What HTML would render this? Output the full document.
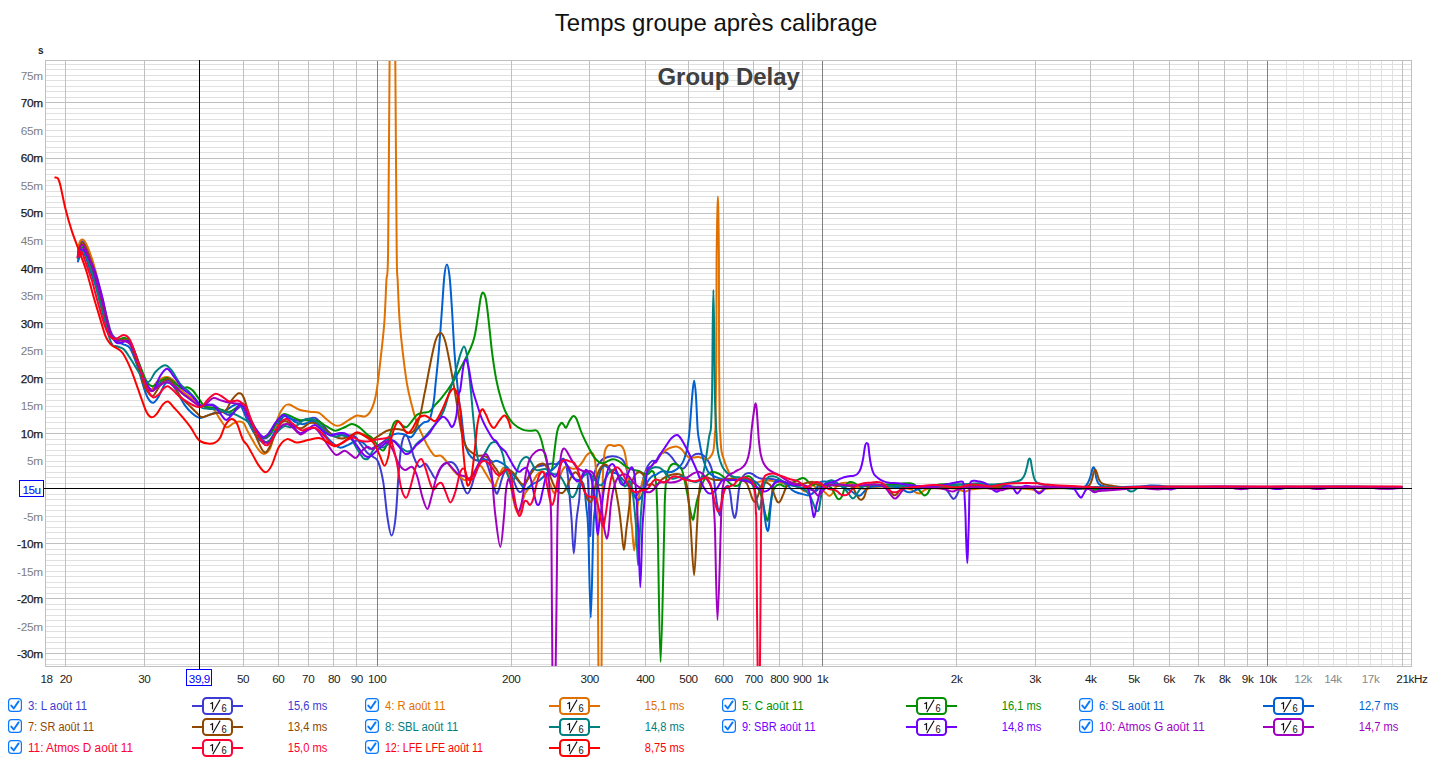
<!DOCTYPE html><html><head><meta charset="utf-8"><title>Group Delay</title>
<style>
html,body{margin:0;padding:0;background:#fff;}
body{width:1433px;height:780px;overflow:hidden;position:relative;font-family:"Liberation Sans",sans-serif;}
svg{position:absolute;left:0;top:0;}
text{font-family:"Liberation Sans",sans-serif;}
</style></head><body>
<svg width="1433" height="780" viewBox="0 0 1433 780">
<rect x="0" y="0" width="1433" height="780" fill="#ffffff"/>
<g shape-rendering="crispEdges"><rect x="45" y="664" width="1367" height="1" fill="#e0e0e0"/><rect x="45" y="659" width="1367" height="1" fill="#e0e0e0"/><rect x="45" y="648" width="1367" height="1" fill="#e0e0e0"/><rect x="45" y="642" width="1367" height="1" fill="#e0e0e0"/><rect x="45" y="637" width="1367" height="1" fill="#e0e0e0"/><rect x="45" y="631" width="1367" height="1" fill="#e0e0e0"/><rect x="45" y="626" width="1367" height="1" fill="#e0e0e0"/><rect x="45" y="620" width="1367" height="1" fill="#e0e0e0"/><rect x="45" y="615" width="1367" height="1" fill="#e0e0e0"/><rect x="45" y="609" width="1367" height="1" fill="#e0e0e0"/><rect x="45" y="604" width="1367" height="1" fill="#e0e0e0"/><rect x="45" y="593" width="1367" height="1" fill="#e0e0e0"/><rect x="45" y="587" width="1367" height="1" fill="#e0e0e0"/><rect x="45" y="582" width="1367" height="1" fill="#e0e0e0"/><rect x="45" y="576" width="1367" height="1" fill="#e0e0e0"/><rect x="45" y="571" width="1367" height="1" fill="#e0e0e0"/><rect x="45" y="565" width="1367" height="1" fill="#e0e0e0"/><rect x="45" y="560" width="1367" height="1" fill="#e0e0e0"/><rect x="45" y="554" width="1367" height="1" fill="#e0e0e0"/><rect x="45" y="549" width="1367" height="1" fill="#e0e0e0"/><rect x="45" y="538" width="1367" height="1" fill="#e0e0e0"/><rect x="45" y="532" width="1367" height="1" fill="#e0e0e0"/><rect x="45" y="527" width="1367" height="1" fill="#e0e0e0"/><rect x="45" y="521" width="1367" height="1" fill="#e0e0e0"/><rect x="45" y="516" width="1367" height="1" fill="#e0e0e0"/><rect x="45" y="510" width="1367" height="1" fill="#e0e0e0"/><rect x="45" y="505" width="1367" height="1" fill="#e0e0e0"/><rect x="45" y="499" width="1367" height="1" fill="#e0e0e0"/><rect x="45" y="494" width="1367" height="1" fill="#e0e0e0"/><rect x="45" y="483" width="1367" height="1" fill="#e0e0e0"/><rect x="45" y="477" width="1367" height="1" fill="#e0e0e0"/><rect x="45" y="472" width="1367" height="1" fill="#e0e0e0"/><rect x="45" y="466" width="1367" height="1" fill="#e0e0e0"/><rect x="45" y="461" width="1367" height="1" fill="#e0e0e0"/><rect x="45" y="455" width="1367" height="1" fill="#e0e0e0"/><rect x="45" y="450" width="1367" height="1" fill="#e0e0e0"/><rect x="45" y="444" width="1367" height="1" fill="#e0e0e0"/><rect x="45" y="439" width="1367" height="1" fill="#e0e0e0"/><rect x="45" y="428" width="1367" height="1" fill="#e0e0e0"/><rect x="45" y="422" width="1367" height="1" fill="#e0e0e0"/><rect x="45" y="417" width="1367" height="1" fill="#e0e0e0"/><rect x="45" y="411" width="1367" height="1" fill="#e0e0e0"/><rect x="45" y="406" width="1367" height="1" fill="#e0e0e0"/><rect x="45" y="400" width="1367" height="1" fill="#e0e0e0"/><rect x="45" y="394" width="1367" height="1" fill="#e0e0e0"/><rect x="45" y="389" width="1367" height="1" fill="#e0e0e0"/><rect x="45" y="383" width="1367" height="1" fill="#e0e0e0"/><rect x="45" y="372" width="1367" height="1" fill="#e0e0e0"/><rect x="45" y="367" width="1367" height="1" fill="#e0e0e0"/><rect x="45" y="361" width="1367" height="1" fill="#e0e0e0"/><rect x="45" y="356" width="1367" height="1" fill="#e0e0e0"/><rect x="45" y="350" width="1367" height="1" fill="#e0e0e0"/><rect x="45" y="345" width="1367" height="1" fill="#e0e0e0"/><rect x="45" y="339" width="1367" height="1" fill="#e0e0e0"/><rect x="45" y="334" width="1367" height="1" fill="#e0e0e0"/><rect x="45" y="328" width="1367" height="1" fill="#e0e0e0"/><rect x="45" y="317" width="1367" height="1" fill="#e0e0e0"/><rect x="45" y="312" width="1367" height="1" fill="#e0e0e0"/><rect x="45" y="306" width="1367" height="1" fill="#e0e0e0"/><rect x="45" y="301" width="1367" height="1" fill="#e0e0e0"/><rect x="45" y="295" width="1367" height="1" fill="#e0e0e0"/><rect x="45" y="290" width="1367" height="1" fill="#e0e0e0"/><rect x="45" y="284" width="1367" height="1" fill="#e0e0e0"/><rect x="45" y="279" width="1367" height="1" fill="#e0e0e0"/><rect x="45" y="273" width="1367" height="1" fill="#e0e0e0"/><rect x="45" y="262" width="1367" height="1" fill="#e0e0e0"/><rect x="45" y="257" width="1367" height="1" fill="#e0e0e0"/><rect x="45" y="251" width="1367" height="1" fill="#e0e0e0"/><rect x="45" y="246" width="1367" height="1" fill="#e0e0e0"/><rect x="45" y="240" width="1367" height="1" fill="#e0e0e0"/><rect x="45" y="235" width="1367" height="1" fill="#e0e0e0"/><rect x="45" y="229" width="1367" height="1" fill="#e0e0e0"/><rect x="45" y="224" width="1367" height="1" fill="#e0e0e0"/><rect x="45" y="218" width="1367" height="1" fill="#e0e0e0"/><rect x="45" y="207" width="1367" height="1" fill="#e0e0e0"/><rect x="45" y="202" width="1367" height="1" fill="#e0e0e0"/><rect x="45" y="196" width="1367" height="1" fill="#e0e0e0"/><rect x="45" y="191" width="1367" height="1" fill="#e0e0e0"/><rect x="45" y="185" width="1367" height="1" fill="#e0e0e0"/><rect x="45" y="180" width="1367" height="1" fill="#e0e0e0"/><rect x="45" y="174" width="1367" height="1" fill="#e0e0e0"/><rect x="45" y="169" width="1367" height="1" fill="#e0e0e0"/><rect x="45" y="163" width="1367" height="1" fill="#e0e0e0"/><rect x="45" y="152" width="1367" height="1" fill="#e0e0e0"/><rect x="45" y="147" width="1367" height="1" fill="#e0e0e0"/><rect x="45" y="141" width="1367" height="1" fill="#e0e0e0"/><rect x="45" y="136" width="1367" height="1" fill="#e0e0e0"/><rect x="45" y="130" width="1367" height="1" fill="#e0e0e0"/><rect x="45" y="124" width="1367" height="1" fill="#e0e0e0"/><rect x="45" y="119" width="1367" height="1" fill="#e0e0e0"/><rect x="45" y="113" width="1367" height="1" fill="#e0e0e0"/><rect x="45" y="108" width="1367" height="1" fill="#e0e0e0"/><rect x="45" y="97" width="1367" height="1" fill="#e0e0e0"/><rect x="45" y="91" width="1367" height="1" fill="#e0e0e0"/><rect x="45" y="86" width="1367" height="1" fill="#e0e0e0"/><rect x="45" y="80" width="1367" height="1" fill="#e0e0e0"/><rect x="45" y="75" width="1367" height="1" fill="#e0e0e0"/><rect x="45" y="69" width="1367" height="1" fill="#e0e0e0"/><rect x="45" y="64" width="1367" height="1" fill="#e0e0e0"/><rect x="1286" y="60" width="1" height="607" fill="#e0e0e0"/><rect x="1303" y="60" width="1" height="607" fill="#e0e0e0"/><rect x="1318" y="60" width="1" height="607" fill="#e0e0e0"/><rect x="1333" y="60" width="1" height="607" fill="#e0e0e0"/><rect x="1346" y="60" width="1" height="607" fill="#e0e0e0"/><rect x="1358" y="60" width="1" height="607" fill="#e0e0e0"/><rect x="1370" y="60" width="1" height="607" fill="#e0e0e0"/><rect x="1381" y="60" width="1" height="607" fill="#e0e0e0"/><rect x="1392" y="60" width="1" height="607" fill="#e0e0e0"/><rect x="65" y="60" width="1" height="607" fill="#c0c0c0"/><rect x="144" y="60" width="1" height="607" fill="#c0c0c0"/><rect x="199" y="60" width="1" height="607" fill="#c0c0c0"/><rect x="243" y="60" width="1" height="607" fill="#c0c0c0"/><rect x="278" y="60" width="1" height="607" fill="#c0c0c0"/><rect x="308" y="60" width="1" height="607" fill="#c0c0c0"/><rect x="333" y="60" width="1" height="607" fill="#c0c0c0"/><rect x="356" y="60" width="1" height="607" fill="#c0c0c0"/><rect x="511" y="60" width="1" height="607" fill="#c0c0c0"/><rect x="589" y="60" width="1" height="607" fill="#c0c0c0"/><rect x="645" y="60" width="1" height="607" fill="#c0c0c0"/><rect x="688" y="60" width="1" height="607" fill="#c0c0c0"/><rect x="723" y="60" width="1" height="607" fill="#c0c0c0"/><rect x="753" y="60" width="1" height="607" fill="#c0c0c0"/><rect x="779" y="60" width="1" height="607" fill="#c0c0c0"/><rect x="802" y="60" width="1" height="607" fill="#c0c0c0"/><rect x="956" y="60" width="1" height="607" fill="#c0c0c0"/><rect x="1035" y="60" width="1" height="607" fill="#c0c0c0"/><rect x="1090" y="60" width="1" height="607" fill="#c0c0c0"/><rect x="1133" y="60" width="1" height="607" fill="#c0c0c0"/><rect x="1169" y="60" width="1" height="607" fill="#c0c0c0"/><rect x="1198" y="60" width="1" height="607" fill="#c0c0c0"/><rect x="1224" y="60" width="1" height="607" fill="#c0c0c0"/><rect x="1247" y="60" width="1" height="607" fill="#c0c0c0"/><rect x="1402" y="60" width="1" height="607" fill="#c0c0c0"/><rect x="45" y="653" width="1367" height="1" fill="#c0c0c0"/><rect x="45" y="598" width="1367" height="1" fill="#c0c0c0"/><rect x="45" y="543" width="1367" height="1" fill="#c0c0c0"/><rect x="45" y="488" width="1367" height="1" fill="#c0c0c0"/><rect x="45" y="433" width="1367" height="1" fill="#c0c0c0"/><rect x="45" y="378" width="1367" height="1" fill="#c0c0c0"/><rect x="45" y="323" width="1367" height="1" fill="#c0c0c0"/><rect x="45" y="268" width="1367" height="1" fill="#c0c0c0"/><rect x="45" y="213" width="1367" height="1" fill="#c0c0c0"/><rect x="45" y="158" width="1367" height="1" fill="#c0c0c0"/><rect x="45" y="102" width="1367" height="1" fill="#c0c0c0"/><rect x="377" y="60" width="1" height="607" fill="#808080"/><rect x="822" y="60" width="1" height="607" fill="#808080"/><rect x="1267" y="60" width="1" height="607" fill="#808080"/><rect x="45.5" y="60.5" width="1366" height="606" fill="none" stroke="#c0c0c0" stroke-width="1"/></g>
<defs><clipPath id="plot"><rect x="46" y="61" width="1365" height="605"/></clipPath></defs>
<g clip-path="url(#plot)" fill="none" stroke-width="2" stroke-linejoin="round" stroke-linecap="round">
<path d="M78.0 252.0C78.2 251.0 78.7 247.6 79.2 246.0C79.7 244.4 80.3 243.3 80.8 242.6C81.3 241.9 81.8 241.5 82.4 241.6C83.0 241.7 83.7 242.1 84.3 243.0C84.9 243.9 85.5 245.0 86.3 246.8C87.1 248.6 88.2 251.5 89.2 254.0C90.2 256.5 91.3 259.3 92.2 262.0C93.1 264.7 94.0 267.5 94.7 270.0C95.4 272.5 96.1 275.0 96.6 277.0C97.1 279.0 96.8 278.2 97.8 282.0C98.8 285.8 100.6 291.9 102.7 300.0C104.8 308.1 108.2 324.3 110.5 330.8C112.8 337.3 114.5 337.5 116.7 339.0C118.9 340.5 121.4 339.1 123.8 340.0C126.2 340.9 128.6 340.5 131.0 344.1C133.4 347.7 135.8 355.2 138.2 361.5C140.6 367.8 143.2 377.2 145.4 382.0C147.6 386.8 149.3 389.9 151.5 390.3C153.7 390.7 156.1 385.8 158.7 384.1C161.3 382.4 164.3 380.0 166.9 380.0C169.5 380.0 171.5 381.9 174.1 384.1C176.7 386.3 179.6 390.7 182.3 393.3C185.0 395.9 187.8 397.6 190.5 399.5C193.2 401.4 196.3 403.6 198.7 404.6C201.1 405.6 202.5 405.6 204.9 405.6C207.3 405.6 210.4 403.7 213.1 404.6C215.8 405.5 218.6 409.1 221.3 410.8C224.0 412.5 226.8 415.2 229.5 414.9C232.2 414.5 235.4 410.2 237.7 408.7C239.9 407.2 241.2 404.5 243.0 406.0C244.8 407.5 246.0 413.5 248.2 417.9C250.4 422.3 253.8 428.9 256.4 432.3C259.0 435.7 261.4 438.0 263.6 438.5C265.8 439.0 267.5 437.8 269.7 435.4C271.9 433.0 274.5 427.4 276.9 424.1C279.3 420.9 281.7 416.8 284.1 415.9C286.5 415.0 288.7 418.1 291.3 419.0C293.9 419.9 296.8 421.0 299.5 421.0C302.2 421.0 305.1 419.5 307.7 419.0C310.3 418.5 312.5 417.0 314.9 417.9C317.3 418.8 319.5 421.5 322.1 424.1C324.7 426.7 327.6 431.6 330.3 433.3C333.0 435.0 335.8 434.0 338.5 434.4C341.2 434.8 344.0 435.1 346.7 435.4C349.4 435.7 352.5 434.9 354.9 436.4C357.3 437.9 358.9 441.9 361.0 444.6C363.1 447.3 365.1 450.8 367.2 452.8C369.2 454.9 371.5 455.4 373.3 456.9C375.1 458.4 376.5 457.6 378.2 461.8C379.9 466.0 381.8 473.1 383.3 482.3C384.8 491.5 386.0 508.3 387.4 517.2C388.8 526.1 390.1 535.6 391.5 535.6C392.9 535.6 394.4 527.8 395.6 517.2C396.8 506.6 397.7 484.4 398.7 472.1C399.7 459.8 400.6 449.5 401.8 443.3C403.0 437.1 404.5 435.1 405.9 435.1C407.3 435.1 408.6 439.5 410.0 443.3C411.4 447.1 412.6 453.8 414.1 457.7C415.6 461.6 417.3 465.9 419.2 466.9C421.1 467.9 423.5 463.1 425.4 463.8C427.3 464.5 428.8 468.6 430.5 471.0C432.2 473.4 433.9 478.7 435.6 478.2C437.3 477.7 438.9 470.5 440.8 467.9C442.7 465.3 444.8 463.6 446.9 462.8C448.9 462.0 451.2 461.6 453.1 462.8C455.0 464.0 456.5 466.1 458.2 470.0C459.9 473.9 461.8 482.5 463.3 486.4C464.8 490.3 466.0 493.6 467.4 493.6C468.8 493.6 469.9 490.7 471.5 486.4C473.1 482.1 475.0 472.3 476.7 467.9C478.4 463.4 480.3 460.9 481.8 459.7C483.3 458.5 484.4 458.1 485.9 460.8C487.4 463.6 489.3 470.9 491.0 476.2C492.7 481.5 494.7 490.4 496.0 492.8C497.3 495.2 497.8 492.2 498.6 490.3C499.5 488.4 500.2 484.1 501.1 481.3C502.0 478.5 502.7 475.5 503.7 473.6C504.7 471.7 505.8 469.9 506.9 469.7C508.0 469.5 508.9 470.4 510.1 472.3C511.3 474.2 512.6 478.3 513.9 481.3C515.2 484.3 516.5 488.6 517.8 490.3C519.1 492.0 520.3 492.6 521.6 491.5C522.9 490.4 524.2 486.6 525.5 483.8C526.8 481.0 528.0 477.4 529.3 474.9C530.6 472.3 531.9 469.9 533.2 468.5C534.5 467.1 535.7 466.9 537.0 466.5C538.3 466.1 539.6 466.2 540.9 465.9C542.2 465.6 543.4 464.9 544.7 464.6C546.0 464.3 547.3 464.2 548.6 464.0C549.9 463.8 551.1 463.6 552.4 463.6C553.7 463.6 555.0 464.5 556.3 464.0C557.6 463.5 558.9 461.7 560.1 460.8C561.3 459.9 562.3 458.4 563.3 458.8C564.3 459.2 565.1 460.6 565.9 463.3C566.6 466.0 567.2 469.3 567.8 474.9C568.4 480.5 569.1 489.2 569.7 496.7C570.3 504.2 570.9 510.6 571.6 520.0C572.3 529.5 573.0 553.4 573.8 553.4C574.6 553.4 575.6 528.9 576.5 520.0C577.4 511.1 578.6 505.4 579.2 500.0C579.8 494.6 579.5 491.9 580.0 487.7C580.5 483.5 581.6 477.5 582.4 474.9C583.2 472.3 584.1 472.3 585.0 472.3C585.9 472.3 586.9 471.3 587.5 474.9C588.1 478.5 588.2 483.9 588.6 494.1C589.0 504.3 589.6 535.0 590.1 536.0C590.6 537.0 591.0 509.3 591.5 500.0C592.0 490.7 592.2 485.3 593.0 480.0C593.8 474.7 594.8 471.0 596.0 468.0C597.2 465.0 598.7 463.6 600.0 462.0C601.3 460.4 602.0 459.4 604.0 458.5C606.0 457.6 609.7 456.6 611.9 456.3C614.1 456.0 615.3 456.4 617.0 456.9C618.7 457.4 620.8 458.2 622.2 459.5C623.6 460.8 624.5 462.5 625.4 464.6C626.2 466.7 626.6 469.1 627.3 472.3C628.0 475.5 628.9 480.5 629.8 483.8C630.6 487.1 631.5 490.0 632.4 492.0C633.3 494.0 634.1 495.7 635.0 496.0C635.9 496.3 637.0 495.3 638.0 494.0C639.0 492.7 640.0 491.0 641.0 488.0C642.0 485.0 642.9 479.7 644.0 476.0C645.1 472.3 646.5 468.5 647.8 466.0C649.1 463.5 650.6 461.9 652.0 461.0C653.4 460.1 654.7 461.9 656.0 460.8C657.3 459.7 658.5 455.8 659.8 454.4C661.1 453.0 662.4 452.6 663.7 452.4C665.0 452.2 666.2 452.4 667.5 453.1C668.8 453.9 670.1 455.4 671.4 456.9C672.7 458.4 673.8 460.4 675.2 462.1C676.6 463.8 678.3 466.1 679.7 467.2C681.1 468.3 682.4 468.9 683.6 468.5C684.8 468.1 685.7 466.2 686.8 464.6C687.9 463.0 688.8 460.4 690.0 458.8C691.2 457.2 692.4 455.9 693.8 455.0C695.2 454.1 696.8 453.7 698.3 453.7C699.8 453.7 701.3 454.0 702.8 455.0C704.3 456.0 705.9 457.5 707.3 459.5C708.7 461.5 710.0 464.0 711.1 467.2C712.2 470.4 713.0 474.2 713.7 478.7C714.5 483.2 715.0 489.4 715.6 494.1C716.2 498.8 716.9 503.5 717.5 506.9C718.1 510.3 719.0 513.5 719.5 514.6C720.0 515.7 720.3 515.4 720.7 513.3C721.1 511.2 721.5 505.6 722.0 501.8C722.5 498.0 723.1 492.9 723.9 490.3C724.6 487.7 725.8 487.0 726.5 486.4C727.2 485.8 727.8 485.1 728.4 486.4C729.0 487.7 729.8 490.2 730.4 494.1C731.0 498.0 731.6 505.6 732.3 509.5C733.0 513.5 733.8 517.4 734.5 517.8C735.2 518.2 735.9 514.8 736.4 512.0C736.9 509.2 737.1 505.1 737.6 501.0C738.1 496.9 738.5 491.4 739.2 487.7C739.9 484.0 740.8 480.9 741.8 478.7C742.8 476.4 743.8 475.2 745.0 474.2C746.2 473.2 747.5 472.9 748.8 472.9C750.1 472.9 751.4 473.5 752.7 474.2C754.0 474.9 755.0 476.1 756.5 476.8C758.0 477.6 759.7 478.4 761.6 478.7C763.5 479.0 766.0 478.6 768.1 478.7C770.2 478.8 772.6 479.0 774.5 479.4C776.4 479.8 777.9 480.6 779.6 481.3C781.3 482.0 783.0 483.2 784.7 483.8C786.4 484.4 787.9 484.7 789.8 485.1C791.7 485.5 794.1 486.0 796.3 486.4C798.4 486.8 800.8 487.3 802.7 487.7C804.6 488.1 806.1 488.6 807.8 489.0C809.5 489.4 811.5 490.0 812.9 490.3C814.3 490.6 814.9 491.4 816.0 491.0C817.1 490.6 818.3 488.7 819.8 487.7C821.3 486.7 822.3 485.7 824.8 485.2C827.3 484.7 831.0 484.5 834.8 484.6C838.6 484.7 843.2 485.6 847.4 485.9C851.6 486.2 855.8 486.5 860.0 486.5C864.2 486.5 867.3 485.9 872.5 485.9C877.7 485.9 885.1 486.3 891.4 486.5C897.7 486.7 905.0 486.9 910.2 487.1C915.4 487.3 918.6 487.7 922.8 487.7C927.0 487.7 931.8 487.0 935.3 487.1C938.8 487.2 942.0 487.7 944.1 488.4C946.2 489.1 946.7 490.1 947.9 491.5C949.1 492.9 950.1 495.2 951.1 496.5C952.1 497.8 952.8 499.0 953.6 499.0C954.4 499.0 955.2 497.9 956.1 496.5C957.0 495.1 958.1 491.9 959.2 490.3C960.4 488.7 960.7 487.7 963.0 487.1C965.3 486.5 967.5 486.6 973.0 486.5C978.5 486.4 983.2 486.3 996.0 486.5C1008.8 486.7 1032.7 487.2 1050.0 487.5C1067.3 487.8 1085.0 488.1 1100.0 488.0C1115.0 487.9 1123.3 487.2 1140.0 487.0C1156.7 486.8 1180.0 486.8 1200.0 486.8C1220.0 486.8 1240.0 487.0 1260.0 487.0C1280.0 487.0 1300.0 486.8 1320.0 486.8C1340.0 486.8 1366.4 486.9 1380.0 486.9C1393.6 486.9 1397.9 486.9 1401.5 486.9" stroke="#3c3cd2"/>
<path d="M78.2 250.0C78.3 249.1 78.5 246.4 78.9 244.8C79.3 243.2 79.9 241.5 80.5 240.6C81.1 239.7 81.7 239.3 82.4 239.4C83.1 239.5 83.8 240.1 84.5 241.0C85.2 241.9 85.7 242.9 86.6 244.8C87.5 246.7 88.8 249.8 89.8 252.5C90.8 255.2 91.8 258.2 92.7 261.0C93.6 263.8 94.3 266.5 95.0 269.0C95.7 271.5 96.3 273.8 96.8 276.0C97.3 278.2 97.1 278.0 98.0 282.0C98.9 286.0 100.2 291.4 102.3 300.0C104.4 308.6 108.1 327.3 110.5 333.8C112.9 340.3 114.3 338.1 116.7 339.0C119.1 339.9 122.5 338.0 124.9 339.0C127.3 340.0 128.8 341.0 131.0 345.1C133.2 349.2 135.8 357.1 138.2 363.6C140.6 370.1 143.3 379.7 145.4 384.1C147.5 388.6 148.4 390.8 150.5 390.3C152.6 389.8 155.0 383.2 157.7 381.0C160.4 378.8 164.2 376.9 166.9 376.9C169.6 376.9 171.5 378.6 174.1 381.0C176.7 383.4 179.6 388.6 182.3 391.3C185.0 394.0 187.8 395.3 190.5 397.4C193.2 399.4 196.3 402.1 198.7 403.6C201.1 405.2 202.5 405.9 204.9 406.7C207.3 407.5 210.7 406.8 213.1 408.7C215.5 410.6 217.0 414.8 219.2 417.9C221.4 421.0 224.0 426.3 226.4 427.2C228.8 428.1 231.4 424.1 233.6 423.1C235.8 422.1 238.0 421.3 239.7 421.4C241.4 421.5 242.6 421.7 244.0 423.5C245.4 425.3 245.8 427.9 248.2 432.3C250.6 436.7 255.8 446.1 258.5 449.7C261.2 453.3 262.6 454.3 264.6 453.8C266.7 453.3 268.6 452.7 270.8 446.7C273.0 440.7 275.7 424.6 277.9 417.9C280.1 411.2 282.2 408.9 284.1 406.7C286.0 404.5 286.6 404.1 289.2 404.6C291.8 405.1 296.1 408.5 299.5 409.7C302.9 410.9 306.4 411.3 309.7 411.8C312.9 412.3 316.2 411.6 319.0 412.8C321.8 414.0 323.6 416.9 326.2 419.0C328.8 421.1 332.0 424.1 334.4 425.1C336.8 426.1 338.1 426.0 340.5 425.1C342.9 424.2 346.0 421.6 348.7 420.0C351.4 418.4 354.2 416.1 356.9 415.5C359.6 414.9 362.7 417.3 365.1 416.3C367.5 415.3 369.4 413.6 371.3 409.7C373.2 405.8 374.6 402.5 376.3 393.0C378.0 383.5 380.0 364.5 381.3 352.6C382.6 340.7 383.5 333.8 384.4 321.8C385.2 309.8 385.8 292.8 386.4 280.8C387.0 268.8 387.6 286.8 388.1 250.0C388.6 213.2 389.3 95.0 389.6 60.0C389.9 25.0 389.0 43.3 389.9 40.0C390.8 36.7 394.1 36.7 395.0 40.0C395.9 43.3 395.0 25.0 395.3 60.0C395.6 95.0 396.3 213.2 396.7 250.0C397.1 286.8 397.2 268.8 397.7 280.8C398.2 292.8 398.8 309.8 399.7 321.8C400.6 333.8 401.6 342.4 402.8 352.6C404.0 362.9 405.5 375.0 406.9 383.3C408.3 391.6 409.4 396.1 411.0 402.3C412.6 408.6 414.3 415.3 416.2 420.8C418.1 426.3 420.2 430.7 422.3 435.1C424.4 439.5 426.4 444.0 428.5 447.4C430.6 450.8 432.6 454.2 434.6 455.6C436.7 457.0 438.8 454.6 440.8 455.6C442.9 456.6 444.8 459.4 446.9 461.8C448.9 464.2 451.1 467.6 453.1 470.0C455.2 472.4 457.1 474.5 459.2 476.2C461.2 477.9 463.3 480.3 465.4 480.3C467.4 480.3 469.6 478.3 471.5 476.2C473.4 474.1 475.1 469.6 476.7 467.9C478.2 466.2 479.4 465.2 480.8 465.9C482.2 466.6 483.4 469.7 484.9 472.1C486.4 474.5 488.3 477.9 490.0 480.3C491.7 482.7 494.1 485.8 495.1 486.4C496.1 487.0 495.4 485.3 496.0 483.8C496.6 482.3 497.6 479.8 498.6 477.4C499.6 475.0 500.9 471.3 501.8 469.7C502.8 468.1 503.4 467.4 504.3 467.8C505.2 468.2 506.5 470.1 507.5 472.3C508.5 474.6 509.2 477.2 510.1 481.3C511.0 485.4 511.7 492.0 512.7 496.7C513.7 501.4 514.8 506.7 515.9 509.5C517.0 512.3 518.1 513.9 519.1 513.3C520.1 512.6 520.7 508.8 521.6 505.6C522.5 502.4 523.5 497.1 524.8 494.1C526.1 491.1 527.9 489.8 529.3 487.7C530.7 485.6 531.9 483.4 533.2 481.3C534.5 479.2 535.7 476.5 537.0 474.9C538.3 473.3 539.7 472.1 540.9 471.7C542.1 471.3 543.0 471.4 544.1 472.3C545.2 473.2 546.1 475.0 547.3 477.4C548.5 479.8 550.0 483.8 551.1 486.4C552.2 489.0 552.8 492.1 553.7 492.8C554.6 493.5 555.4 492.2 556.3 490.3C557.1 488.4 557.9 484.3 558.8 481.3C559.6 478.3 560.4 474.7 561.4 472.3C562.4 469.9 563.5 468.2 564.6 467.2C565.7 466.2 566.6 466.3 567.8 466.5C569.0 466.7 570.3 468.2 571.6 468.5C572.9 468.8 574.2 468.9 575.5 468.5C576.8 468.1 578.0 467.2 579.3 465.9C580.6 464.6 582.0 462.5 583.2 460.8C584.4 459.1 585.0 457.0 586.3 455.6C587.5 454.2 589.4 452.4 590.7 452.4C592.0 452.4 593.0 452.9 593.9 455.6C594.8 458.3 595.3 462.1 595.9 468.5C596.5 474.9 596.9 483.9 597.2 494.1C597.5 504.4 597.6 497.0 597.8 530.0C598.0 563.0 598.0 665.0 598.6 692.0C599.2 719.0 600.8 719.0 601.4 692.0C602.0 665.0 601.8 563.0 602.0 530.0C602.2 497.0 602.2 504.4 602.4 494.1C602.6 483.9 602.8 475.6 603.2 468.5C603.6 461.4 604.1 455.6 604.8 451.8C605.5 448.1 606.4 447.1 607.4 446.0C608.4 444.9 609.4 445.1 610.6 445.1C611.8 445.1 613.2 446.0 614.5 446.0C615.8 446.0 617.1 445.1 618.3 445.1C619.5 445.1 620.5 445.1 621.5 446.0C622.5 446.9 623.2 447.6 624.1 450.5C625.0 453.4 625.9 458.2 626.6 463.3C627.4 468.4 628.1 475.1 628.6 481.3C629.1 487.5 629.4 494.1 629.8 500.5C630.2 506.9 630.7 514.8 631.1 519.7C631.5 524.6 631.7 524.9 632.2 530.0C632.7 535.1 633.5 550.6 634.2 550.6C634.9 550.6 635.8 537.3 636.3 530.0C636.8 522.7 636.9 513.3 637.5 506.9C638.1 500.5 639.2 495.8 640.1 491.5C641.0 487.2 641.7 484.5 642.7 481.3C643.7 478.1 644.6 474.7 645.9 472.3C647.2 469.9 648.8 468.9 650.4 467.2C652.0 465.5 654.6 463.0 655.5 462.1C656.4 461.2 655.1 463.4 656.0 462.1C656.9 460.8 659.4 456.4 661.1 454.4C662.8 452.4 664.5 451.1 666.3 449.9C668.1 448.7 670.2 447.8 672.0 447.3C673.8 446.8 675.6 446.4 677.2 446.7C678.8 447.0 680.2 447.9 681.6 449.2C683.0 450.5 684.2 453.0 685.5 454.4C686.8 455.8 687.9 457.1 689.3 457.6C690.7 458.1 692.3 457.7 693.8 457.6C695.3 457.5 696.8 456.8 698.3 456.9C699.8 457.0 701.4 457.8 702.8 458.2C704.2 458.6 705.4 459.3 706.6 459.2C707.8 459.1 708.7 458.8 709.8 457.6C710.9 456.4 712.4 454.3 713.1 451.8C713.9 449.3 714.0 446.1 714.3 442.8C714.6 439.5 714.8 435.0 715.0 432.0C715.2 429.0 715.3 437.0 715.5 425.0C715.7 413.0 716.1 387.5 716.3 360.0C716.5 332.5 716.4 284.2 716.6 260.0C716.8 235.8 717.1 225.6 717.3 215.0C717.5 204.4 717.7 196.6 717.9 196.6C718.1 196.6 718.2 204.4 718.4 215.0C718.6 225.6 718.8 235.8 718.9 260.0C719.0 284.2 719.0 332.5 719.1 360.0C719.2 387.5 719.5 413.0 719.7 425.0C719.9 437.0 719.9 429.0 720.1 432.0C720.3 435.0 720.5 439.5 720.7 442.8C721.0 446.1 721.1 449.0 721.6 451.8C722.1 454.6 723.0 456.7 723.9 459.5C724.8 462.3 726.1 465.9 727.2 468.5C728.3 471.1 729.2 473.2 730.4 474.9C731.6 476.6 732.7 477.9 734.2 478.7C735.7 479.5 737.9 479.3 739.3 479.6C740.7 479.9 740.8 480.3 742.4 480.6C744.0 480.9 746.7 481.0 748.8 481.3C750.9 481.6 753.1 482.6 755.2 482.6C757.3 482.6 759.5 481.6 761.6 481.3C763.8 481.0 766.0 480.6 768.1 480.6C770.2 480.6 772.4 481.0 774.5 481.3C776.6 481.6 778.8 482.2 780.9 482.6C783.0 483.0 785.4 483.7 787.3 483.8C789.2 483.9 790.7 483.0 792.4 483.2C794.1 483.4 796.0 484.1 797.5 485.1C799.0 486.1 800.1 487.9 801.4 489.0C802.7 490.1 803.9 491.5 805.2 491.5C806.5 491.5 807.8 490.1 809.1 489.0C810.4 487.9 811.8 485.3 812.9 485.1C814.0 484.9 814.6 487.1 816.0 487.7C817.4 488.3 819.4 488.1 821.0 489.0C822.6 489.9 824.0 491.7 825.4 492.8C826.8 493.9 827.9 495.9 829.2 495.9C830.5 495.9 831.9 494.4 833.0 492.8C834.1 491.2 834.8 488.1 836.1 486.5C837.5 484.9 839.4 483.9 841.1 483.3C842.8 482.7 844.5 482.6 846.2 482.7C847.9 482.8 849.5 483.4 851.2 484.0C852.9 484.6 854.5 485.8 856.2 486.5C857.9 487.2 859.5 488.0 861.2 488.4C862.9 488.8 864.4 489.1 866.3 489.0C868.2 488.9 870.0 488.1 872.5 487.7C875.0 487.3 878.1 486.6 881.3 486.5C884.4 486.4 887.6 486.9 891.4 487.1C895.2 487.3 900.5 487.3 903.9 487.7C907.2 488.1 909.4 488.8 911.5 489.6C913.6 490.5 915.0 492.2 916.5 492.8C918.0 493.4 919.0 493.8 920.3 493.4C921.5 493.0 922.5 491.1 924.0 490.3C925.5 489.5 926.2 488.7 929.1 488.4C932.0 488.1 937.4 488.4 941.6 488.4C945.8 488.4 951.1 488.1 954.2 488.4C957.4 488.7 958.6 489.8 960.5 490.3C962.4 490.8 963.8 491.6 965.5 491.5C967.2 491.4 968.2 490.1 970.5 489.6C972.8 489.1 975.0 488.6 979.3 488.4C983.5 488.2 989.2 488.4 996.0 488.4C1002.8 488.4 1013.9 488.4 1020.0 488.6C1026.1 488.8 1030.0 489.1 1032.7 489.6C1035.5 490.1 1035.2 491.1 1036.5 491.5C1037.8 491.9 1039.2 492.1 1040.3 491.8C1041.3 491.5 1041.2 490.2 1042.8 489.6C1044.4 489.0 1043.8 488.6 1050.0 488.4C1056.2 488.2 1070.0 488.4 1080.0 488.4C1090.0 488.4 1100.0 488.8 1110.0 488.6C1120.0 488.4 1125.0 487.5 1140.0 487.2C1155.0 486.9 1180.0 487.0 1200.0 487.0C1220.0 487.0 1240.0 487.1 1260.0 487.1C1280.0 487.1 1300.0 487.0 1320.0 487.0C1340.0 487.0 1366.4 487.1 1380.0 487.1C1393.6 487.1 1397.9 487.0 1401.5 487.0" stroke="#e07000"/>
<path d="M77.8 256.0C78.0 255.2 78.7 252.3 79.2 251.0C79.7 249.7 80.3 248.6 80.8 248.0C81.3 247.4 81.9 247.1 82.4 247.2C82.9 247.3 83.4 247.7 84.0 248.5C84.6 249.3 85.0 250.2 85.8 252.0C86.5 253.8 87.6 256.9 88.5 259.3C89.4 261.7 90.3 264.1 91.2 266.5C92.1 268.9 92.9 271.4 93.7 274.0C94.5 276.6 94.6 277.7 96.0 282.0C97.4 286.3 99.5 291.5 101.9 300.0C104.3 308.5 108.0 326.1 110.5 332.8C113.0 339.5 114.3 339.1 116.7 340.0C119.1 340.9 122.5 337.4 124.9 337.9C127.3 338.4 128.6 338.8 131.0 343.1C133.4 347.4 136.6 357.3 139.2 363.6C141.8 369.9 144.2 377.2 146.4 381.0C148.6 384.8 150.6 386.0 152.6 386.2C154.6 386.4 156.3 383.4 158.7 382.0C161.1 380.6 164.3 377.9 166.9 377.9C169.5 377.9 171.7 380.3 174.1 382.0C176.5 383.7 179.1 387.3 181.3 388.2C183.5 389.1 185.5 386.8 187.4 387.2C189.3 387.6 190.7 388.4 192.6 390.3C194.5 392.2 196.6 395.8 198.7 398.5C200.8 401.2 202.5 405.2 204.9 406.7C207.3 408.2 210.4 407.2 213.1 407.7C215.8 408.2 218.6 409.0 221.3 409.7C224.0 410.4 226.8 412.3 229.5 411.8C232.2 411.3 235.4 408.1 237.7 406.7C239.9 405.3 241.2 402.3 243.0 403.5C244.8 404.7 246.0 409.3 248.2 413.8C250.4 418.3 253.8 426.4 256.4 430.3C259.0 434.2 261.4 436.7 263.6 437.4C265.8 438.1 267.5 436.9 269.7 434.4C271.9 431.8 274.7 425.5 276.9 422.1C279.1 418.8 281.1 415.4 283.1 414.3C285.2 413.2 286.5 414.6 289.2 415.5C291.9 416.4 296.1 419.2 299.5 420.0C302.9 420.8 306.6 419.8 309.7 420.0C312.8 420.2 315.1 420.0 317.9 421.0C320.6 422.0 323.3 424.6 326.2 426.2C329.1 427.8 332.3 430.5 335.4 430.7C338.5 430.9 341.9 428.3 344.6 427.2C347.3 426.1 349.4 424.1 351.8 424.1C354.2 424.1 356.4 425.5 359.0 427.2C361.6 428.9 365.0 432.6 367.2 434.4C369.4 436.2 370.5 436.5 372.0 438.0C373.5 439.5 374.3 441.2 376.2 443.3C378.1 445.4 381.2 451.2 383.3 450.5C385.4 449.8 386.8 443.6 388.5 439.2C390.2 434.8 392.1 426.9 393.6 423.8C395.1 420.7 396.2 420.5 397.7 420.8C399.2 421.1 401.3 424.9 402.8 425.9C404.3 426.9 405.3 427.8 406.9 426.9C408.4 426.0 410.4 422.9 412.1 420.8C413.8 418.8 415.3 416.0 417.2 414.6C419.1 413.2 421.2 413.1 423.3 412.6C425.4 412.1 427.4 412.9 429.5 411.5C431.6 410.1 433.6 406.7 435.6 404.4C437.7 402.1 439.1 401.2 441.8 397.7C444.6 394.2 448.7 388.8 452.1 383.3C455.5 377.8 459.2 370.7 462.3 364.9C465.4 359.1 468.4 353.3 470.5 348.5C472.6 343.7 473.4 341.3 474.6 336.2C475.8 331.1 476.7 324.2 477.7 317.7C478.7 311.2 479.9 301.4 480.8 297.2C481.7 293.0 482.4 292.4 483.2 292.7C484.0 293.0 484.9 294.0 485.9 299.2C486.9 304.4 488.0 314.9 489.0 323.8C490.0 332.7 490.9 343.4 492.1 352.6C493.3 361.8 494.7 371.3 496.2 379.2C497.7 387.1 499.6 394.3 501.3 400.0C503.0 405.7 504.2 409.4 506.2 413.3C508.2 417.2 510.6 420.9 513.3 423.6C516.0 426.3 519.7 428.5 522.6 429.7C525.5 430.9 528.4 430.6 530.8 430.8C533.2 431.0 535.2 429.4 536.9 430.8C538.6 432.2 539.6 434.9 541.0 439.0C542.4 443.1 543.7 450.3 545.1 455.4C546.5 460.5 548.0 467.6 549.2 469.7C550.4 471.8 551.4 470.8 552.3 467.7C553.2 464.6 553.5 457.4 554.4 451.3C555.2 445.2 556.3 435.5 557.4 430.8C558.5 426.1 560.1 424.0 561.1 423.0C562.1 422.0 562.8 423.8 563.6 424.6C564.4 425.4 565.1 428.4 566.1 427.7C567.1 427.0 568.5 422.4 569.7 420.5C570.9 418.6 572.3 416.3 573.4 416.0C574.5 415.7 575.1 416.2 576.3 418.5C577.5 420.8 579.3 426.8 580.5 430.0C581.7 433.2 582.3 434.7 583.7 437.7C585.1 440.7 587.1 444.7 588.8 447.9C590.5 451.1 592.2 454.5 593.9 456.9C595.6 459.3 597.5 461.1 599.1 462.1C600.7 463.1 602.1 463.3 603.6 463.1C605.1 462.9 606.5 461.5 608.1 460.8C609.7 460.1 611.5 459.2 613.2 459.2C614.9 459.2 616.6 459.9 618.3 460.8C620.0 461.7 621.7 463.4 623.4 464.6C625.1 465.8 626.9 467.3 628.6 468.2C630.3 469.1 632.0 469.5 633.7 470.0C635.4 470.5 637.1 470.4 638.8 471.0C640.5 471.6 642.4 473.1 643.9 473.6C645.4 474.1 646.5 474.6 647.8 474.2C649.1 473.8 650.5 471.1 651.6 471.0C652.7 470.9 653.5 471.5 654.2 473.6C655.0 475.7 655.6 479.1 656.1 483.8C656.6 488.5 656.7 494.1 657.0 501.8C657.3 509.5 657.2 503.3 657.8 530.0C658.4 556.7 659.5 662.0 660.6 662.0C661.7 662.0 663.5 556.7 664.2 530.0C664.9 503.3 664.5 509.3 664.8 501.8C665.0 494.3 665.4 489.6 665.7 485.1C666.1 480.6 666.3 477.9 666.9 474.9C667.5 471.9 668.5 469.0 669.5 467.2C670.5 465.4 671.5 464.5 672.7 464.0C673.9 463.5 675.3 464.0 676.5 464.4C677.7 464.8 678.7 465.4 679.7 466.5C680.7 467.6 681.4 468.5 682.3 471.0C683.1 473.5 683.9 477.4 684.8 481.3C685.6 485.2 686.5 489.4 687.4 494.1C688.3 498.8 689.1 505.2 690.0 509.5C690.9 513.8 692.1 519.1 692.9 519.7C693.6 520.3 693.8 516.5 694.5 513.3C695.2 510.1 696.0 504.3 697.0 500.5C698.0 496.7 699.1 493.5 700.2 490.3C701.3 487.1 702.2 483.9 703.4 481.3C704.6 478.7 706.0 476.4 707.3 474.9C708.6 473.4 709.8 472.7 711.1 472.3C712.4 471.9 713.7 472.1 715.0 472.3C716.3 472.5 717.5 473.0 718.8 473.6C720.1 474.2 721.4 475.1 722.7 476.2C724.0 477.3 725.2 478.7 726.5 480.0C727.8 481.3 729.1 482.8 730.4 483.8C731.7 484.8 732.8 485.6 734.2 485.8C735.6 486.0 737.5 485.9 738.6 485.1C739.8 484.4 740.0 482.6 741.1 481.3C742.2 480.0 743.7 478.2 745.0 477.4C746.3 476.5 747.5 475.9 748.8 476.2C750.1 476.5 751.4 477.7 752.7 479.4C754.0 481.1 755.3 484.4 756.5 486.4C757.7 488.4 758.7 489.4 759.7 491.5C760.7 493.6 761.4 495.8 762.3 499.2C763.1 502.6 763.9 508.5 764.8 512.1C765.7 515.7 766.8 521.0 767.5 521.0C768.2 521.0 768.7 515.7 769.3 512.1C769.9 508.5 770.5 503.1 771.3 499.2C772.0 495.3 772.8 491.4 773.8 489.0C774.8 486.6 775.9 485.9 777.0 485.1C778.1 484.4 779.0 484.3 780.2 484.5C781.4 484.7 782.9 486.2 784.1 486.4C785.3 486.6 786.1 486.2 787.3 485.8C788.5 485.4 789.8 484.6 791.1 483.8C792.4 483.1 793.7 482.0 795.0 481.3C796.3 480.6 797.5 479.9 798.8 479.4C800.1 478.9 801.5 478.1 802.7 478.1C803.9 478.1 804.8 478.6 805.9 479.4C807.0 480.1 807.9 481.7 809.1 482.6C810.3 483.6 811.8 484.9 812.9 485.1C814.0 485.3 814.6 483.8 816.0 484.0C817.4 484.2 819.3 486.3 821.0 486.5C822.7 486.7 824.4 485.0 826.1 485.2C827.8 485.4 829.7 486.2 831.1 487.7C832.5 489.2 833.8 492.2 834.8 494.0C835.8 495.8 836.5 497.6 837.4 498.4C838.2 499.2 839.1 499.5 839.9 499.0C840.7 498.5 841.7 497.0 842.4 495.3C843.1 493.6 843.6 490.9 844.3 489.0C845.0 487.1 845.9 485.1 846.8 484.0C847.7 482.9 848.8 482.3 849.9 482.1C851.0 481.9 852.2 482.2 853.7 482.7C855.2 483.2 856.6 484.7 858.7 485.2C860.8 485.7 863.4 485.9 866.3 485.9C869.2 485.9 872.9 485.4 876.3 485.2C879.6 485.0 883.0 484.8 886.4 484.6C889.8 484.4 893.5 484.2 896.4 484.0C899.3 483.8 901.6 483.4 903.9 483.3C906.2 483.2 908.3 483.0 910.2 483.3C912.1 483.6 913.5 483.8 915.2 485.2C916.9 486.6 918.8 489.8 920.3 491.5C921.8 493.2 922.9 494.9 924.0 495.3C925.1 495.7 926.2 494.9 927.2 494.0C928.2 493.1 928.8 491.0 929.7 489.6C930.6 488.2 931.2 486.7 932.8 485.9C934.4 485.1 936.6 484.9 939.1 484.6C941.6 484.3 944.3 484.0 947.9 484.0C951.5 484.0 956.3 484.4 960.5 484.6C964.7 484.8 967.1 485.1 973.0 485.2C978.9 485.3 989.8 485.2 996.0 485.4C1002.2 485.6 1004.3 486.2 1010.0 486.6C1015.7 487.0 1021.7 487.4 1030.0 487.6C1038.3 487.8 1050.0 487.8 1060.0 488.0C1070.0 488.2 1084.3 488.2 1090.0 488.6C1095.7 489.0 1092.7 490.4 1094.0 490.5C1095.3 490.6 1093.7 489.4 1098.0 489.0C1102.3 488.6 1113.0 488.3 1120.0 488.0C1127.0 487.7 1126.7 487.3 1140.0 487.1C1153.3 486.9 1180.0 486.9 1200.0 486.9C1220.0 486.9 1240.0 487.1 1260.0 487.1C1280.0 487.1 1300.0 486.9 1320.0 486.9C1340.0 486.9 1366.4 487.0 1380.0 487.0C1393.6 487.0 1397.9 487.0 1401.5 487.0" stroke="#009000"/>
<path d="M77.9 261.5C78.1 260.8 78.8 258.7 79.3 257.5C79.8 256.3 80.2 255.1 80.8 254.4C81.4 253.7 82.2 253.1 82.8 253.2C83.4 253.3 84.0 253.9 84.6 254.8C85.2 255.7 85.5 256.7 86.2 258.5C86.9 260.3 87.8 263.2 88.6 265.5C89.4 267.8 90.2 270.2 91.0 272.5C91.8 274.8 92.7 277.4 93.2 279.0C93.8 280.6 93.1 278.5 94.3 282.0C95.5 285.5 97.9 291.9 100.3 300.0C102.7 308.1 106.1 324.1 108.5 330.8C110.9 337.5 112.2 337.8 114.6 340.0C117.0 342.2 120.2 342.7 122.8 344.1C125.4 345.5 127.6 344.6 130.0 348.2C132.4 351.8 134.6 358.2 137.2 365.6C139.8 373.0 143.3 386.5 145.4 392.3C147.5 398.1 148.1 398.8 149.5 400.5C150.9 402.2 152.1 403.3 153.6 402.6C155.1 401.9 156.8 399.5 158.7 396.4C160.6 393.3 163.0 386.3 164.9 384.1C166.8 381.9 168.1 382.1 170.0 383.1C171.9 384.1 173.8 386.7 176.2 390.3C178.6 393.9 181.7 400.7 184.4 404.6C187.1 408.5 190.1 411.6 192.6 413.8C195.1 416.0 197.3 417.5 199.7 417.9C202.1 418.2 204.3 416.8 206.9 415.9C209.5 415.0 212.4 413.5 215.1 412.8C217.8 412.1 220.6 412.8 223.3 411.8C226.0 410.8 229.3 408.0 231.5 406.7C233.7 405.4 235.1 404.3 236.7 404.2C238.3 404.1 239.1 403.0 241.0 406.0C242.9 409.0 245.6 417.0 248.2 422.1C250.8 427.2 253.8 433.0 256.4 436.4C259.0 439.8 261.4 442.0 263.6 442.6C265.8 443.2 267.5 442.5 269.7 440.1C271.9 437.7 274.7 432.1 276.9 428.2C279.1 424.3 281.2 418.9 283.1 416.9C285.0 414.9 286.1 415.4 288.2 416.3C290.2 417.2 292.8 420.8 295.4 422.1C298.0 423.4 300.9 424.3 303.6 424.1C306.3 423.9 309.2 420.8 311.8 421.0C314.4 421.2 316.6 422.5 319.0 425.1C321.4 427.7 323.6 433.1 326.2 436.4C328.8 439.6 332.0 442.7 334.4 444.6C336.8 446.5 338.1 447.7 340.5 447.7C342.9 447.7 346.0 445.8 348.7 444.6C351.4 443.4 354.5 440.8 356.9 440.5C359.3 440.2 361.1 441.2 363.1 442.6C365.2 444.0 367.1 448.0 369.2 448.7C371.2 449.4 373.6 447.4 375.4 446.7C377.2 446.0 378.2 445.9 380.0 444.6C381.8 443.4 384.0 440.9 386.4 439.2C388.8 437.4 391.9 435.0 394.6 434.1C397.3 433.2 400.1 433.6 402.8 434.1C405.5 434.6 408.6 438.1 411.0 437.2C413.4 436.3 415.1 431.4 417.2 429.0C419.2 426.6 421.2 424.4 423.3 422.8C425.4 421.2 427.8 423.1 429.5 419.7C431.2 416.3 432.6 408.4 433.6 402.3C434.6 396.2 434.8 391.6 435.6 383.3C436.5 375.0 437.7 364.6 438.7 352.6C439.7 340.6 440.9 324.1 441.8 311.5C442.7 298.9 443.5 284.6 444.3 276.7C445.1 268.8 446.0 264.4 446.9 264.4C447.8 264.4 448.7 268.8 449.6 276.7C450.5 284.6 451.3 298.9 452.1 311.5C452.9 324.1 453.6 340.6 454.5 352.6C455.4 364.6 456.4 375.1 457.2 383.3C458.0 391.5 458.5 396.5 459.2 401.8C459.9 407.1 460.4 408.4 461.3 415.0C462.2 421.6 463.2 434.9 464.4 441.3C465.6 447.7 466.8 450.5 468.5 453.6C470.2 456.7 472.6 458.5 474.6 459.7C476.7 460.9 478.8 460.8 480.8 460.8C482.9 460.8 484.8 459.5 486.9 459.7C488.9 459.9 491.6 461.6 493.1 461.8C494.6 462.0 494.7 460.7 496.0 460.8C497.3 460.9 499.4 461.8 501.1 462.7C502.8 463.6 504.6 464.9 506.3 466.5C508.0 468.1 509.7 470.3 511.4 472.3C513.1 474.3 514.8 476.6 516.5 478.7C518.2 480.8 520.2 483.3 521.6 485.1C523.0 486.9 523.6 489.3 524.8 489.6C526.0 489.9 527.3 488.1 528.7 487.1C530.1 486.1 531.6 484.8 533.2 483.8C534.8 482.8 536.7 482.4 538.3 481.3C539.9 480.2 541.3 478.8 542.8 477.4C544.3 476.0 545.7 474.2 547.3 472.9C548.9 471.6 550.9 470.9 552.4 469.7C553.9 468.5 555.0 467.3 556.3 465.9C557.6 464.5 558.9 462.5 560.1 461.4C561.3 460.3 562.2 459.0 563.3 459.5C564.4 460.0 565.3 462.2 566.5 464.6C567.7 467.0 569.1 471.2 570.4 473.6C571.7 476.0 572.8 477.6 574.2 478.7C575.6 479.8 577.3 479.6 578.6 480.0C579.9 480.4 580.8 480.0 581.8 481.3C582.8 482.6 583.5 483.4 584.3 487.7C585.0 492.0 585.6 499.8 586.3 506.9C586.9 513.9 587.5 511.5 588.2 530.0C589.0 548.5 589.9 617.7 590.8 617.7C591.6 617.7 592.6 548.5 593.3 530.0C594.0 511.5 594.6 513.9 595.2 506.9C595.9 499.8 596.5 493.2 597.2 487.7C598.0 482.1 598.9 477.0 599.7 473.6C600.6 470.2 601.3 468.5 602.3 467.2C603.3 465.9 604.4 465.7 605.5 465.9C606.6 466.1 607.5 467.4 608.7 468.5C609.9 469.6 611.1 471.4 612.5 472.3C613.9 473.2 615.6 472.8 617.0 473.6C618.4 474.5 619.6 476.1 620.9 477.4C622.2 478.7 623.4 479.8 624.7 481.3C626.0 482.8 627.3 484.7 628.6 486.4C629.9 488.1 631.2 489.6 632.4 491.5C633.6 493.4 634.6 496.5 635.6 497.9C636.6 499.3 637.2 500.1 638.2 499.9C639.2 499.7 640.5 498.3 641.4 496.7C642.3 495.1 643.0 492.4 643.9 490.3C644.8 488.2 645.5 485.7 646.5 483.8C647.5 481.9 648.4 480.2 649.7 478.7C651.0 477.2 653.2 475.5 654.2 474.9C655.2 474.3 655.1 475.3 656.0 474.9C656.9 474.5 658.5 472.9 659.8 472.3C661.1 471.7 662.2 471.0 663.7 471.0C665.2 471.0 667.1 472.3 668.8 472.3C670.5 472.3 672.2 471.9 673.9 471.0C675.6 470.1 677.6 468.7 679.1 467.2C680.6 465.7 681.7 464.5 682.9 462.1C684.1 459.8 685.2 456.3 686.1 453.1C687.0 449.9 687.5 446.7 688.1 442.8C688.7 438.9 688.9 438.0 689.6 430.0C690.3 422.0 691.5 403.2 692.3 395.0C693.0 386.8 693.5 380.5 694.1 380.5C694.7 380.5 695.3 386.8 695.9 395.0C696.5 403.2 697.1 422.0 697.7 430.0C698.3 438.0 698.9 438.5 699.6 442.8C700.4 447.1 701.2 451.8 702.2 455.6C703.2 459.5 704.3 463.1 705.4 465.9C706.5 468.7 707.2 470.6 708.6 472.3C710.0 474.0 712.0 475.2 713.7 476.2C715.4 477.2 717.1 477.6 718.8 478.1C720.5 478.6 722.0 479.1 723.9 479.4C725.8 479.7 728.4 480.0 730.4 480.0C732.4 480.0 734.2 479.4 736.0 479.4C737.8 479.4 739.4 480.0 741.1 480.0C742.8 480.0 744.6 479.4 746.3 479.4C748.0 479.4 749.7 479.5 751.4 480.0C753.1 480.5 755.0 481.3 756.5 482.6C758.0 483.9 759.3 484.7 760.4 487.7C761.5 490.7 762.2 495.6 762.9 500.5C763.6 505.4 764.2 512.8 764.8 517.2C765.4 521.6 765.8 524.7 766.3 527.0C766.8 529.3 767.3 531.0 767.7 531.0C768.1 531.0 768.5 530.0 768.9 527.0C769.3 524.0 769.5 518.8 770.0 513.3C770.5 507.8 771.3 499.0 771.9 494.1C772.5 489.2 772.9 486.2 773.8 483.8C774.6 481.4 775.8 480.5 777.0 480.0C778.2 479.5 779.6 480.2 780.9 480.6C782.2 481.0 783.4 481.6 784.7 482.6C786.0 483.6 787.3 485.1 788.6 486.4C789.9 487.7 790.9 489.2 792.4 490.3C793.9 491.4 795.8 492.2 797.5 492.8C799.2 493.4 801.0 493.7 802.7 494.1C804.4 494.5 806.3 495.4 807.8 495.4C809.3 495.4 810.3 495.0 811.6 494.1C812.9 493.2 814.1 492.2 815.5 490.3C816.9 488.4 818.2 484.2 819.8 482.7C821.3 481.2 823.1 481.6 824.8 481.5C826.5 481.4 827.9 481.7 829.8 482.1C831.7 482.5 834.0 483.3 836.1 484.0C838.2 484.7 840.3 485.6 842.4 486.5C844.5 487.4 846.8 488.6 848.7 489.6C850.6 490.7 852.2 491.9 853.7 492.8C855.2 493.8 856.4 494.9 857.5 495.3C858.6 495.7 859.6 495.8 860.6 495.3C861.6 494.8 862.6 493.2 863.7 492.1C864.9 491.0 866.0 489.3 867.5 488.4C869.0 487.5 870.2 486.9 872.5 486.5C874.8 486.1 878.1 485.9 881.3 485.9C884.4 485.9 888.5 486.2 891.4 486.5C894.3 486.8 896.8 487.1 898.9 487.7C901.0 488.3 902.4 489.6 903.9 490.3C905.4 491.0 906.4 491.8 907.7 492.1C909.0 492.4 910.2 492.4 911.5 492.1C912.8 491.8 913.7 490.9 915.2 490.3C916.7 489.7 918.0 488.8 920.3 488.4C922.6 488.0 925.5 487.8 929.1 487.7C932.7 487.6 937.4 487.8 941.6 487.7C945.8 487.6 945.1 487.2 954.2 487.1C963.3 487.0 983.4 486.8 996.0 486.8C1008.6 486.9 1019.3 487.2 1030.0 487.4C1040.7 487.6 1052.0 487.5 1060.0 487.8C1068.0 488.1 1073.9 489.1 1077.9 489.0C1081.9 488.9 1082.5 488.2 1084.2 487.1C1085.9 486.1 1087.0 484.5 1088.0 482.7C1089.0 480.9 1089.8 478.7 1090.5 476.4C1091.2 474.1 1091.9 470.4 1092.4 468.9C1093.0 467.4 1093.4 467.2 1093.8 467.4C1094.2 467.6 1094.5 468.5 1094.9 470.2C1095.3 471.9 1095.7 475.6 1096.2 477.7C1096.7 479.8 1097.3 481.4 1098.0 482.7C1098.7 483.9 1099.3 484.6 1100.6 485.2C1101.9 485.8 1103.1 486.2 1105.6 486.5C1108.1 486.8 1109.9 487.1 1115.6 487.1C1121.3 487.1 1134.3 486.6 1140.0 486.4C1145.7 486.1 1146.7 485.7 1150.0 485.6C1153.3 485.5 1156.3 485.6 1160.0 485.8C1163.7 486.0 1165.3 486.6 1172.0 486.8C1178.7 487.0 1185.3 486.9 1200.0 486.9C1214.7 486.9 1240.0 486.8 1260.0 486.8C1280.0 486.8 1300.0 486.9 1320.0 486.9C1340.0 486.9 1366.4 486.8 1380.0 486.8C1393.6 486.8 1397.9 486.9 1401.5 486.9" stroke="#0060d0"/>
<path d="M78.0 253.0C78.2 252.1 78.8 249.0 79.3 247.5C79.8 246.0 80.5 244.9 81.0 244.2C81.5 243.5 82.0 243.2 82.6 243.3C83.1 243.4 83.7 243.8 84.3 244.6C84.9 245.4 85.4 246.5 86.2 248.3C87.0 250.1 88.0 253.0 89.0 255.5C90.0 258.0 91.0 260.6 91.9 263.2C92.8 265.8 93.4 267.7 94.3 270.8C95.2 273.9 96.0 277.1 97.2 282.0C98.4 286.9 99.2 291.5 101.3 300.0C103.3 308.5 107.1 326.1 109.5 332.8C111.9 339.5 113.2 338.8 115.6 340.0C118.0 341.2 121.4 339.3 123.8 340.0C126.2 340.7 127.8 340.2 130.0 344.1C132.2 348.0 134.8 356.6 137.2 363.6C139.6 370.6 142.3 381.1 144.4 386.2C146.5 391.3 148.0 392.9 149.5 394.4C151.0 395.9 151.9 396.8 153.6 395.4C155.3 394.0 157.5 388.9 159.7 386.2C161.9 383.5 164.8 379.7 166.9 379.0C169.0 378.3 169.8 379.1 172.0 382.0C174.2 384.9 177.6 392.6 180.3 396.4C183.1 400.2 185.8 401.9 188.5 404.6C191.2 407.3 194.5 410.7 196.7 412.8C198.9 414.9 199.8 417.0 201.8 417.3C203.9 417.6 206.4 415.6 209.0 414.9C211.6 414.1 214.5 413.5 217.2 412.8C219.9 412.1 223.0 412.9 225.4 410.8C227.8 408.8 229.3 403.4 231.5 400.5C233.7 397.6 236.6 393.6 238.7 393.3C240.8 393.0 241.8 393.0 244.1 398.5C246.4 404.0 249.6 418.2 252.3 426.2C255.0 434.2 258.3 442.3 260.5 446.7C262.7 451.1 263.9 452.8 265.6 452.4C267.3 452.0 268.6 449.0 270.8 444.6C273.0 440.2 276.6 430.1 279.0 426.2C281.4 422.3 282.7 421.0 285.1 421.0C287.5 421.0 290.6 425.0 293.3 426.2C296.0 427.4 298.8 428.7 301.5 428.2C304.2 427.7 307.0 423.8 309.7 423.1C312.4 422.4 315.1 422.9 317.9 424.1C320.6 425.3 323.4 428.2 326.2 430.3C328.9 432.4 331.7 435.0 334.4 436.4C337.1 437.8 339.9 438.7 342.6 438.5C345.3 438.3 348.1 436.3 350.8 435.4C353.5 434.5 356.3 433.1 359.0 433.3C361.7 433.5 365.0 435.4 367.2 436.4C369.4 437.4 370.2 439.5 372.0 439.5C373.8 439.5 375.8 437.6 378.2 436.2C380.6 434.8 383.7 432.2 386.4 431.0C389.1 429.8 391.9 429.2 394.6 429.0C397.3 428.8 400.2 429.3 402.8 430.0C405.4 430.7 407.9 433.3 410.0 433.1C412.1 432.9 413.4 432.1 415.1 429.0C416.8 425.9 418.8 420.4 420.3 414.6C421.9 408.8 423.5 398.3 424.4 394.1C425.2 389.9 424.4 394.7 425.4 389.5C426.4 384.3 428.8 371.0 430.5 362.8C432.2 354.6 433.9 345.2 435.6 340.3C437.3 335.4 439.2 333.1 440.8 333.1C442.4 333.1 443.5 336.0 444.9 340.3C446.3 344.6 447.6 351.9 449.0 358.7C450.4 365.5 451.7 373.4 453.1 381.3C454.5 389.2 455.8 397.6 457.2 405.9C458.6 414.2 459.9 424.4 461.3 431.0C462.7 437.6 463.9 442.0 465.4 445.4C466.9 448.8 468.6 449.8 470.5 451.5C472.4 453.2 474.6 454.9 476.7 455.6C478.8 456.3 480.8 455.1 482.8 455.6C484.9 456.1 486.9 456.6 489.0 458.7C491.1 460.8 493.9 466.3 495.1 467.9C496.3 469.5 495.3 467.6 496.0 468.5C496.7 469.4 498.1 473.0 499.2 473.6C500.3 474.2 501.4 473.0 502.4 472.3C503.4 471.6 503.9 470.1 505.0 469.7C506.1 469.3 507.5 469.3 508.8 469.7C510.1 470.1 511.4 471.0 512.7 472.3C514.0 473.6 515.2 475.7 516.5 477.4C517.8 479.1 519.2 481.4 520.4 482.6C521.6 483.8 522.4 484.9 523.6 484.5C524.8 484.1 526.0 482.0 527.4 480.0C528.8 478.0 530.3 474.7 531.9 472.3C533.5 469.9 535.5 467.3 537.0 465.9C538.5 464.5 539.7 464.3 540.9 464.0C542.1 463.7 543.0 463.2 544.1 464.0C545.2 464.8 546.1 466.1 547.3 468.5C548.5 470.9 549.8 475.5 551.1 478.7C552.4 481.9 553.7 485.4 555.0 487.7C556.3 489.9 557.5 491.3 558.8 492.2C560.1 493.1 561.5 493.3 562.7 492.8C563.9 492.3 564.8 490.9 565.9 489.0C567.0 487.1 567.9 483.8 569.1 481.3C570.3 478.8 571.8 475.7 572.9 474.2C574.0 472.7 574.9 471.8 576.0 472.3C577.1 472.8 578.5 474.8 579.8 477.4C581.1 480.0 582.4 484.1 583.7 487.7C585.0 491.3 586.3 496.8 587.5 499.2C588.7 501.6 589.7 502.2 590.7 501.8C591.7 501.4 592.5 499.3 593.3 496.7C594.0 494.1 594.5 490.2 595.2 486.4C596.0 482.5 596.8 476.8 597.8 473.6C598.8 470.4 599.8 468.7 601.0 467.2C602.2 465.7 603.6 464.7 604.8 464.6C606.0 464.5 607.0 465.2 608.1 466.5C609.2 467.8 610.2 469.4 611.3 472.3C612.4 475.2 613.5 479.7 614.5 483.8C615.5 487.9 616.1 491.8 617.0 496.7C617.9 501.6 618.9 507.7 619.6 513.3C620.4 518.8 620.8 523.9 621.5 530.0C622.2 536.1 623.1 550.1 623.9 550.1C624.7 550.1 625.4 537.2 626.3 530.0C627.2 522.8 628.4 513.9 629.2 506.9C630.0 499.8 630.4 492.6 631.1 487.7C631.9 482.8 632.7 479.9 633.7 477.4C634.7 474.9 635.8 473.8 636.9 472.9C638.0 472.0 639.0 472.0 640.1 472.3C641.2 472.6 642.3 473.4 643.3 474.9C644.3 476.4 645.1 479.6 645.9 481.3C646.6 483.0 646.8 484.7 647.8 485.1C648.8 485.5 650.2 483.6 651.6 483.8C653.0 484.0 654.6 486.8 656.0 486.4C657.4 486.0 658.5 482.7 659.8 481.3C661.1 479.9 662.2 479.1 663.7 478.1C665.2 477.1 667.1 476.1 668.8 475.5C670.5 474.9 672.2 474.4 673.9 474.2C675.6 474.0 677.6 473.9 679.1 474.2C680.6 474.5 681.7 474.8 682.9 476.2C684.1 477.6 685.2 479.6 686.1 482.6C687.0 485.6 687.5 489.0 688.1 494.1C688.7 499.2 689.1 507.3 689.6 513.3C690.1 519.3 690.1 519.7 690.9 530.0C691.6 540.3 693.1 575.2 694.1 575.2C695.1 575.2 696.2 540.3 696.8 530.0C697.4 519.7 697.4 519.3 697.7 513.3C698.1 507.3 698.4 499.4 698.9 494.1C699.4 488.8 700.1 484.3 700.9 481.3C701.6 478.3 702.3 476.9 703.4 476.2C704.5 475.5 705.8 476.9 707.3 477.4C708.8 477.9 710.5 479.0 712.4 479.4C714.3 479.8 716.7 480.0 718.8 480.0C720.9 480.0 722.9 479.6 725.2 479.4C727.6 479.2 731.1 478.4 732.9 478.7C734.7 479.0 734.9 481.2 736.0 481.3C737.1 481.4 738.5 479.5 739.8 479.4C741.1 479.3 742.5 479.9 743.7 480.6C744.9 481.3 745.9 482.2 746.9 483.8C747.9 485.4 748.6 488.0 749.5 490.3C750.4 492.6 751.1 496.0 752.0 497.9C752.9 499.8 753.7 501.8 754.6 501.8C755.5 501.8 756.4 499.8 757.2 497.9C758.1 496.0 758.9 492.6 759.7 490.3C760.6 488.0 761.3 485.1 762.3 483.8C763.3 482.5 764.4 482.6 765.5 482.6C766.6 482.6 767.6 483.0 768.7 483.8C769.8 484.6 770.9 485.8 771.9 487.7C772.9 489.6 773.6 493.1 774.5 495.4C775.4 497.6 776.3 500.0 777.0 501.2C777.7 502.4 778.2 502.6 778.9 502.4C779.5 502.2 780.1 501.3 780.9 499.9C781.6 498.5 782.5 496.1 783.4 494.1C784.2 492.1 785.1 489.4 786.0 487.7C786.9 486.0 787.5 484.6 788.6 483.8C789.7 483.0 790.9 482.6 792.4 482.6C793.9 482.6 795.8 483.6 797.5 483.8C799.2 484.0 801.0 484.0 802.7 483.8C804.4 483.6 806.1 482.9 807.8 482.6C809.5 482.3 811.5 481.7 812.9 481.9C814.3 482.1 814.6 483.4 816.0 484.0C817.4 484.6 819.3 485.2 821.0 485.2C822.7 485.2 824.2 484.0 826.1 484.0C828.0 484.0 830.2 484.9 832.3 485.2C834.4 485.5 836.5 485.9 838.6 485.9C840.7 485.9 843.0 485.2 844.9 485.2C846.8 485.2 848.4 485.3 849.9 485.9C851.4 486.5 852.6 487.4 853.7 489.0C854.9 490.6 855.9 493.6 856.8 495.3C857.7 497.0 858.4 498.3 859.3 499.0C860.1 499.7 861.0 500.1 861.9 499.7C862.8 499.3 863.7 498.1 864.4 496.5C865.1 494.9 865.6 492.1 866.3 490.3C867.0 488.5 867.5 486.8 868.8 485.9C870.0 484.9 871.7 484.7 873.8 484.6C875.9 484.5 879.0 484.7 881.3 485.2C883.6 485.7 885.9 486.4 887.6 487.7C889.3 489.0 890.4 491.5 891.4 492.8C892.4 494.1 893.0 495.1 893.9 495.3C894.8 495.5 896.0 494.9 897.0 494.0C898.0 493.1 899.1 490.8 900.2 489.6C901.4 488.5 902.0 487.6 903.9 487.1C905.8 486.6 908.4 486.5 911.5 486.5C914.6 486.5 918.8 487.0 922.8 487.1C926.8 487.2 931.1 487.1 935.3 487.1C939.5 487.1 943.7 487.1 947.9 487.1C952.1 487.1 956.3 487.1 960.5 487.1C964.7 487.1 967.1 487.1 973.0 487.1C978.9 487.1 984.8 487.0 996.0 487.1C1007.2 487.2 1027.7 487.7 1040.0 487.8C1052.3 487.9 1062.6 488.0 1070.0 488.0C1077.4 488.0 1081.0 488.2 1084.2 487.7C1087.4 487.2 1087.9 486.4 1089.2 485.2C1090.5 483.9 1091.1 482.3 1091.8 480.2C1092.5 478.1 1093.0 474.5 1093.6 472.7C1094.2 470.9 1094.8 469.5 1095.3 469.5C1095.8 469.5 1096.2 471.1 1096.8 472.7C1097.4 474.3 1098.0 477.2 1098.7 478.9C1099.4 480.6 1100.1 481.8 1101.2 482.7C1102.3 483.6 1103.6 484.1 1105.6 484.6C1107.6 485.1 1110.4 485.5 1113.1 485.9C1115.8 486.3 1117.4 486.9 1121.9 487.1C1126.4 487.3 1127.0 487.0 1140.0 487.0C1153.0 487.0 1180.0 486.9 1200.0 486.9C1220.0 486.9 1240.0 487.0 1260.0 487.0C1280.0 487.0 1300.0 486.9 1320.0 486.9C1340.0 486.9 1366.4 487.0 1380.0 487.0C1393.6 487.0 1397.9 486.9 1401.5 486.9" stroke="#904800"/>
<path d="M77.8 258.5C78.0 257.8 78.8 255.1 79.3 254.0C79.8 252.9 80.4 252.2 81.0 251.7C81.6 251.2 82.4 250.8 83.0 250.9C83.6 251.1 84.2 251.7 84.8 252.6C85.4 253.5 85.8 254.7 86.5 256.5C87.2 258.3 88.1 261.2 88.9 263.5C89.7 265.8 90.5 268.2 91.3 270.5C92.1 272.8 93.0 275.6 93.6 277.5C94.2 279.4 94.1 278.2 95.0 282.0C95.9 285.8 96.6 290.2 99.2 300.0C101.8 309.8 107.6 333.3 110.5 341.0C113.4 348.7 114.5 344.8 116.7 346.2C118.9 347.6 121.4 347.0 123.8 349.2C126.2 351.4 128.1 355.1 131.0 359.5C133.9 363.9 138.4 372.1 141.3 375.9C144.2 379.6 146.1 382.7 148.5 382.0C150.9 381.3 152.9 374.6 155.6 371.8C158.3 369.0 162.2 365.4 164.9 365.2C167.6 365.0 169.4 367.6 172.0 370.8C174.6 374.0 177.6 380.7 180.3 384.1C183.1 387.5 185.8 388.6 188.5 391.3C191.2 394.0 194.5 397.8 196.7 400.5C198.9 403.2 199.9 406.3 201.8 407.7C203.7 409.1 205.3 408.4 207.9 408.7C210.5 409.0 214.3 409.2 217.2 409.7C220.1 410.2 222.7 411.1 225.4 411.8C228.1 412.5 230.9 412.8 233.6 413.8C236.3 414.8 239.4 416.5 241.8 417.9C244.2 419.3 245.8 419.7 248.2 422.1C250.6 424.5 253.7 429.1 256.4 432.3C259.1 435.5 262.4 440.1 264.6 441.5C266.8 442.9 267.6 442.0 269.7 440.5C271.8 439.0 274.5 434.7 276.9 432.3C279.3 429.9 281.9 427.1 284.1 426.2C286.3 425.3 288.1 427.4 290.3 427.2C292.5 427.0 295.2 426.3 297.4 425.1C299.6 423.9 301.2 421.0 303.6 420.0C306.0 419.0 309.2 418.3 311.8 419.0C314.4 419.7 316.6 421.9 319.0 424.1C321.4 426.3 323.6 430.2 326.2 432.3C328.8 434.4 331.7 435.9 334.4 436.4C337.1 436.9 339.9 435.0 342.6 435.4C345.3 435.8 348.4 436.3 350.8 438.5C353.2 440.7 354.8 445.5 356.9 448.7C358.9 451.9 361.2 456.2 363.1 457.9C365.0 459.5 366.7 459.6 368.2 458.6C369.7 457.6 370.5 454.2 372.0 452.0C373.5 449.8 375.3 446.2 377.2 445.4C379.1 444.6 381.2 447.8 383.3 447.4C385.4 447.0 387.6 444.3 389.5 443.3C391.4 442.3 392.7 440.6 394.6 441.3C396.5 442.0 398.8 445.7 400.8 447.4C402.9 449.1 405.0 451.1 406.9 451.5C408.8 451.9 410.4 450.9 412.1 449.5C413.8 448.1 415.1 445.4 417.2 443.3C419.2 441.2 422.0 439.6 424.4 437.2C426.8 434.8 429.3 431.7 431.5 429.0C433.7 426.3 435.6 423.9 437.7 420.8C439.8 417.7 441.9 415.0 443.8 410.5C445.7 406.0 447.1 399.8 449.0 393.6C450.9 387.4 453.2 379.6 455.1 373.1C457.0 366.6 458.8 359.1 460.3 354.6C461.8 350.2 462.8 346.4 463.9 346.4C465.0 346.4 465.9 349.5 466.8 354.6C467.7 359.7 468.7 370.0 469.5 377.2C470.3 384.4 471.0 392.1 471.5 397.7C472.0 403.2 472.1 404.9 472.6 410.5C473.1 416.1 473.9 424.2 474.6 431.0C475.3 437.8 476.0 446.4 476.7 451.5C477.4 456.6 477.8 460.4 478.7 461.8C479.6 463.2 480.6 461.4 481.8 459.7C483.0 458.0 484.4 454.2 485.9 451.5C487.4 448.8 489.3 444.8 491.0 443.3C492.7 441.8 494.7 441.7 496.2 442.3C497.7 442.9 498.6 444.5 499.8 446.7C501.0 448.9 502.1 452.0 503.1 455.6C504.1 459.2 504.7 464.9 505.6 468.5C506.6 472.1 507.6 475.3 508.8 477.4C510.0 479.5 511.4 482.1 512.7 481.3C514.0 480.5 515.2 475.5 516.5 472.3C517.8 469.1 519.1 464.6 520.4 462.1C521.7 459.7 522.9 458.4 524.2 457.6C525.5 456.9 526.8 456.7 528.1 457.6C529.4 458.6 530.6 461.3 531.9 463.3C533.2 465.3 534.2 468.6 535.7 469.7C537.2 470.8 539.2 469.8 540.9 469.7C542.6 469.6 544.5 468.7 546.0 469.1C547.5 469.5 548.5 471.5 549.8 472.3C551.1 473.1 552.2 473.8 553.7 474.2C555.2 474.6 557.3 473.9 558.8 474.9C560.3 475.9 561.4 477.9 562.7 480.0C564.0 482.1 565.3 485.2 566.5 487.7C567.7 490.1 568.6 493.1 569.7 494.7C570.8 496.3 571.9 497.6 572.9 497.3C573.9 497.0 575.0 494.8 576.0 492.8C577.0 490.8 577.5 487.7 578.6 485.1C579.7 482.5 581.1 479.2 582.4 477.4C583.7 475.6 585.0 474.8 586.3 474.2C587.6 473.6 588.8 472.9 590.1 473.6C591.4 474.4 592.6 477.0 593.9 478.7C595.2 480.4 596.5 482.7 597.8 483.8C599.1 484.9 600.3 486.0 601.6 485.1C602.9 484.2 604.2 480.8 605.5 478.7C606.8 476.6 608.0 473.8 609.3 472.3C610.6 470.8 611.9 469.7 613.2 469.7C614.5 469.7 615.7 470.6 617.0 472.3C618.3 474.0 619.6 477.6 620.9 480.0C622.2 482.4 623.6 485.8 624.7 486.4C625.8 487.0 626.4 484.6 627.3 483.8C628.1 483.0 628.9 480.2 629.8 481.3C630.6 482.4 631.6 486.0 632.4 490.3C633.1 494.6 633.6 500.3 634.3 506.9C634.9 513.5 635.7 520.2 636.3 530.0C636.9 539.8 637.5 565.4 638.1 565.4C638.7 565.4 639.4 540.9 640.0 530.0C640.6 519.1 641.2 508.7 642.0 500.0C642.8 491.3 644.0 482.6 645.0 478.0C646.0 473.4 646.7 473.9 647.8 472.3C648.9 470.7 650.3 469.4 651.6 468.5C652.9 467.6 654.8 467.4 655.5 467.2C656.2 467.0 655.3 467.1 656.0 467.2C656.7 467.3 658.5 467.2 659.8 467.8C661.1 468.4 662.4 469.6 663.7 471.0C665.0 472.4 666.0 474.9 667.5 476.2C669.0 477.5 671.0 478.5 672.7 478.7C674.4 478.9 676.3 477.8 677.8 477.4C679.3 477.0 680.1 476.0 681.6 476.2C683.1 476.4 685.1 477.8 686.8 478.7C688.5 479.6 690.2 480.8 691.9 481.3C693.6 481.8 695.5 482.3 697.0 481.9C698.5 481.5 699.8 480.3 700.9 478.7C702.0 477.1 702.6 475.1 703.4 472.3C704.1 469.5 704.8 466.0 705.4 462.1C706.0 458.2 706.7 453.5 707.3 449.2C707.9 444.9 708.7 439.3 709.2 436.4C709.7 433.4 710.1 433.4 710.4 431.5C710.7 429.6 710.8 431.4 711.1 425.0C711.4 418.6 711.8 409.3 712.1 393.0C712.4 376.7 712.5 344.2 712.7 327.0C712.9 309.8 713.2 290.0 713.4 290.0C713.6 290.0 713.9 309.8 714.1 327.0C714.3 344.2 714.5 376.7 714.8 393.0C715.1 409.3 715.7 417.8 716.0 425.0C716.3 432.2 716.5 433.0 716.6 436.0C716.8 439.0 716.6 439.9 716.9 442.8C717.2 445.7 717.7 450.1 718.2 453.1C718.7 456.1 719.4 458.5 720.1 460.8C720.9 463.1 721.6 465.3 722.7 467.2C723.8 469.1 725.2 470.9 726.5 472.3C727.8 473.7 728.9 474.7 730.4 475.5C731.9 476.3 733.9 476.9 735.5 477.2C737.1 477.5 738.4 477.1 739.8 477.4C741.2 477.6 742.4 478.3 743.7 478.7C745.0 479.1 746.2 479.4 747.5 480.0C748.8 480.6 750.2 480.9 751.4 482.6C752.6 484.3 753.6 486.9 754.6 490.3C755.6 493.7 756.5 499.9 757.2 503.1C758.0 506.3 758.5 509.5 759.1 509.5C759.7 509.5 760.4 506.3 761.0 503.1C761.6 499.9 762.1 493.9 762.9 490.3C763.6 486.7 764.5 483.6 765.5 481.3C766.5 479.1 767.4 477.7 768.7 476.8C770.0 475.9 771.8 476.1 773.2 476.2C774.6 476.3 775.7 476.8 777.0 477.4C778.3 478.0 779.4 479.0 780.9 480.0C782.4 481.0 784.3 482.3 786.0 483.2C787.7 484.1 789.4 484.6 791.1 485.1C792.8 485.6 794.6 485.9 796.3 486.4C798.0 486.9 799.7 487.4 801.4 488.3C803.1 489.2 805.0 490.1 806.5 491.5C808.0 492.9 809.2 494.6 810.4 496.7C811.6 498.8 812.6 502.2 813.6 504.4C814.6 506.6 815.2 509.2 816.1 510.1C817.0 511.1 818.0 511.7 818.7 510.1C819.4 508.5 819.8 503.6 820.4 500.3C821.0 497.0 821.3 493.2 822.3 490.3C823.2 487.4 824.6 484.4 826.1 482.7C827.6 481.0 829.7 480.4 831.1 480.2C832.5 480.0 833.3 480.7 834.8 481.5C836.3 482.3 838.2 483.9 839.9 485.2C841.6 486.4 843.4 487.5 844.9 489.0C846.4 490.5 847.6 492.5 848.7 494.0C849.9 495.5 850.9 497.2 851.8 497.8C852.7 498.4 853.3 498.6 854.3 497.8C855.2 497.0 856.4 494.5 857.5 492.8C858.6 491.1 859.7 489.0 861.2 487.7C862.7 486.4 864.4 485.7 866.3 485.2C868.2 484.7 870.0 484.6 872.5 484.6C875.0 484.6 878.1 485.0 881.3 485.2C884.4 485.4 887.6 485.8 891.4 485.9C895.2 486.0 899.7 485.8 903.9 485.9C908.1 486.0 912.3 486.4 916.5 486.5C920.7 486.6 924.9 486.6 929.1 486.5C933.3 486.4 937.4 486.1 941.6 485.9C945.8 485.7 950.0 485.5 954.2 485.2C958.4 484.9 962.6 484.3 966.8 484.0C971.0 483.7 975.4 483.2 979.3 483.3C983.2 483.4 986.5 484.5 990.0 484.6C993.5 484.7 997.0 484.3 1000.1 484.0C1003.2 483.7 1006.1 483.1 1008.8 482.7C1011.5 482.3 1014.3 482.0 1016.4 481.5C1018.5 481.0 1020.0 480.7 1021.4 479.6C1022.8 478.6 1023.5 477.4 1024.5 475.2C1025.5 473.0 1026.4 469.0 1027.1 466.4C1027.8 463.8 1028.1 460.6 1028.7 459.5C1029.3 458.4 1029.9 457.9 1030.5 459.5C1031.1 461.1 1031.5 465.9 1032.1 468.9C1032.7 471.9 1033.3 475.5 1034.0 477.7C1034.7 479.9 1035.5 481.1 1036.5 482.1C1037.5 483.2 1038.6 483.5 1040.3 484.0C1042.0 484.5 1044.4 484.7 1046.5 485.2C1048.6 485.7 1048.9 486.9 1052.8 487.2C1056.7 487.5 1062.1 487.0 1070.0 487.0C1077.9 487.0 1091.7 487.0 1100.0 487.0C1108.3 487.0 1115.7 487.1 1120.0 487.2C1124.3 487.3 1124.3 487.2 1125.7 487.7C1127.1 488.2 1127.3 489.7 1128.2 490.3C1129.1 490.9 1130.2 491.5 1131.3 491.5C1132.3 491.5 1133.5 490.8 1134.5 490.3C1135.5 489.8 1136.1 488.9 1137.0 488.4C1137.9 487.8 1129.5 487.3 1140.0 487.0C1150.5 486.7 1180.0 486.8 1200.0 486.8C1220.0 486.8 1240.0 486.9 1260.0 486.9C1280.0 486.9 1300.0 486.8 1320.0 486.8C1340.0 486.8 1366.4 486.9 1380.0 486.9C1393.6 486.9 1397.9 486.9 1401.5 486.9" stroke="#008080"/>
<path d="M77.8 257.0C78.0 256.2 78.7 253.7 79.2 252.5C79.7 251.3 80.4 250.5 80.9 250.0C81.4 249.5 81.9 249.2 82.4 249.3C83.0 249.4 83.6 249.6 84.2 250.3C84.8 251.0 85.4 252.0 86.3 253.5C87.2 255.0 88.5 257.3 89.6 259.5C90.7 261.7 91.9 264.2 92.9 266.5C93.9 268.8 94.8 271.3 95.6 273.5C96.4 275.7 97.1 278.1 97.6 279.5C98.0 280.9 97.4 278.6 98.3 282.0C99.2 285.4 101.1 291.9 103.0 300.0C104.9 308.1 107.4 323.8 109.5 330.8C111.6 337.8 113.7 340.0 115.6 342.0C117.5 344.0 118.8 343.2 120.8 343.0C122.8 342.8 125.7 339.6 127.9 341.0C130.1 342.4 131.5 345.1 134.1 351.3C136.7 357.5 140.7 371.9 143.3 378.0C145.9 384.1 147.8 386.1 149.5 388.2C151.2 390.2 151.9 392.2 153.6 390.3C155.3 388.4 157.5 380.5 159.7 376.9C161.9 373.3 164.5 368.7 166.9 368.7C169.3 368.7 171.5 373.6 174.1 376.9C176.7 380.1 179.2 384.9 182.3 388.2C185.4 391.4 189.5 393.5 192.6 396.4C195.7 399.3 198.2 404.2 200.8 405.6C203.4 407.0 205.5 404.4 207.9 404.6C210.3 404.8 212.9 405.0 215.1 406.7C217.3 408.4 219.4 412.7 221.3 414.9C223.2 417.1 224.4 420.4 226.4 420.0C228.4 419.6 231.4 415.4 233.6 412.8C235.8 410.2 238.0 405.6 239.7 404.6C241.3 403.6 242.2 405.5 243.5 407.0C244.8 408.5 245.2 410.3 247.2 413.8C249.2 417.3 252.8 424.4 255.4 428.2C258.0 432.0 260.4 435.9 262.6 436.8C264.8 437.7 266.5 435.8 268.7 433.3C270.9 430.9 273.5 425.2 275.9 422.1C278.3 419.0 281.1 415.4 283.1 414.9C285.2 414.4 286.3 416.8 288.2 419.0C290.1 421.2 292.3 425.8 294.4 428.2C296.4 430.6 298.3 433.1 300.5 433.3C302.7 433.5 305.3 430.6 307.7 429.2C310.1 427.8 312.5 424.9 314.9 425.1C317.3 425.3 319.5 428.6 322.1 430.3C324.7 432.0 327.6 434.9 330.3 435.4C333.0 435.9 336.1 433.6 338.5 433.3C340.9 433.0 342.4 432.4 344.6 433.3C346.8 434.2 349.4 435.9 351.8 438.5C354.2 441.1 356.8 445.8 359.0 448.7C361.2 451.6 363.3 454.6 365.1 455.9C366.9 457.2 367.8 457.6 370.0 456.5C372.2 455.4 375.5 451.9 378.2 449.5C380.9 447.1 384.0 443.8 386.4 442.3C388.8 440.8 390.6 439.6 392.6 440.3C394.7 441.0 396.6 444.2 398.7 446.4C400.8 448.6 403.0 452.6 404.9 453.6C406.8 454.6 408.1 454.0 410.0 452.6C411.9 451.2 414.0 447.6 416.2 445.4C418.4 443.2 421.1 441.2 423.3 439.2C425.5 437.1 427.4 435.7 429.5 433.1C431.6 430.5 433.4 426.5 435.6 423.8C437.8 421.1 440.8 417.2 442.8 416.7C444.9 416.2 446.3 419.1 447.9 420.8C449.4 422.5 450.7 427.6 452.1 426.9C453.5 426.2 455.1 422.0 456.2 416.7C457.3 411.4 457.9 399.5 458.6 395.0C459.3 390.5 459.5 394.2 460.3 389.5C461.1 384.8 462.4 371.9 463.3 366.9C464.2 361.9 465.1 359.3 466.0 359.7C466.9 360.1 467.8 364.0 468.9 369.0C470.0 374.0 471.1 383.3 472.6 389.5C474.1 395.7 476.2 401.5 477.7 406.4C479.2 411.3 480.3 414.9 481.8 418.7C483.3 422.5 485.0 425.6 486.9 429.0C488.8 432.4 491.6 437.2 493.1 439.2C494.6 441.2 494.9 439.6 496.0 440.9C497.1 442.1 498.3 445.0 499.8 446.7C501.3 448.4 503.5 449.4 505.0 451.2C506.5 453.0 507.5 455.4 508.8 457.6C510.1 459.8 511.4 462.5 512.7 464.6C514.0 466.7 515.3 469.2 516.5 470.4C517.7 471.6 518.6 471.9 519.7 471.7C520.8 471.5 521.8 469.8 522.9 469.1C524.0 468.5 525.1 467.3 526.1 467.8C527.1 468.3 527.8 470.1 528.7 472.3C529.6 474.6 530.4 477.9 531.3 481.3C532.1 484.7 532.9 489.2 533.8 492.8C534.6 496.4 535.6 501.1 536.4 503.1C537.1 505.1 537.7 505.2 538.3 505.0C538.9 504.8 539.5 504.2 540.2 501.8C541.0 499.4 541.9 494.2 542.8 490.3C543.7 486.4 544.6 481.4 545.4 478.7C546.1 476.0 546.6 475.0 547.3 474.2C548.0 473.4 548.9 473.5 549.8 473.6C550.6 473.7 551.5 474.4 552.4 474.9C553.3 475.4 554.1 477.0 555.0 476.8C555.9 476.6 556.6 475.4 557.5 473.6C558.4 471.8 559.2 468.0 560.1 465.9C561.0 463.8 561.7 461.2 562.7 460.8C563.7 460.4 564.8 462.0 565.9 463.3C567.0 464.6 567.9 466.4 569.1 468.5C570.3 470.6 571.6 474.1 572.9 476.2C574.2 478.3 575.6 480.7 576.8 481.3C578.0 481.9 578.9 481.1 580.0 480.0C581.1 478.9 582.2 476.6 583.2 474.9C584.2 473.2 585.1 470.1 586.0 469.7C586.9 469.3 588.0 471.2 588.8 472.3C589.6 473.4 590.0 473.4 590.7 476.2C591.5 479.0 592.5 483.9 593.3 489.0C594.0 494.1 594.7 501.1 595.2 506.9C595.7 512.7 596.1 519.3 596.5 524.0C596.9 528.7 597.3 534.9 597.8 534.9C598.2 534.9 598.6 528.7 599.2 524.0C599.8 519.3 600.8 512.9 601.6 506.9C602.4 500.8 603.3 493.2 604.2 487.7C605.1 482.1 605.9 477.1 606.8 473.6C607.6 470.1 608.3 468.1 609.3 466.5C610.2 464.9 611.5 463.9 612.5 464.0C613.5 464.1 614.2 465.4 615.1 467.2C616.0 469.0 616.9 472.3 617.7 474.9C618.6 477.5 619.4 480.9 620.2 482.6C621.1 484.3 621.9 485.3 622.8 485.1C623.7 484.9 624.5 483.2 625.4 481.3C626.2 479.4 627.0 475.7 627.9 473.6C628.8 471.5 629.8 469.5 630.5 468.5C631.2 467.5 631.8 466.9 632.4 467.8C633.0 468.7 633.6 469.2 634.3 473.6C634.9 478.0 635.6 484.7 636.3 494.1C636.9 503.5 637.5 514.5 638.2 530.0C638.9 545.5 639.6 587.2 640.3 587.2C641.0 587.2 641.7 543.4 642.3 530.0C642.9 516.6 643.4 515.0 644.0 506.9C644.6 498.8 645.3 487.5 645.9 481.3C646.5 475.1 646.8 472.3 647.8 469.7C648.8 467.1 650.3 467.4 651.6 465.9C652.9 464.4 654.8 461.4 655.5 460.8C656.2 460.2 655.1 463.4 656.0 462.1C656.9 460.8 659.4 455.9 661.1 453.1C662.8 450.3 664.6 447.9 666.3 445.4C668.0 442.9 669.6 440.0 671.4 438.3C673.2 436.6 675.5 434.9 677.2 435.1C678.9 435.3 680.0 437.2 681.6 439.6C683.2 442.0 685.1 445.9 686.8 449.2C688.5 452.5 690.2 455.9 691.9 459.5C693.6 463.1 695.5 467.4 697.0 471.0C698.5 474.6 699.6 478.3 700.9 481.3C702.2 484.3 703.5 487.1 704.7 489.0C705.9 490.9 706.8 492.1 707.9 492.8C709.0 493.6 710.0 493.7 711.1 493.5C712.2 493.3 713.2 492.5 714.3 491.5C715.4 490.5 716.3 489.4 717.5 487.7C718.7 486.0 720.1 482.6 721.4 481.3C722.7 480.0 723.9 480.2 725.2 480.0C726.5 479.8 727.6 480.3 729.1 480.3C730.6 480.3 732.5 480.1 734.2 480.0C735.9 479.9 737.9 479.9 739.3 480.0C740.7 480.1 740.8 480.3 742.4 480.6C744.0 480.9 746.9 481.1 748.8 481.9C750.7 482.6 752.2 483.9 753.9 485.1C755.6 486.3 757.4 487.9 759.1 489.0C760.8 490.1 762.7 491.3 764.2 491.5C765.7 491.7 766.8 491.2 768.1 490.3C769.4 489.4 770.6 487.7 771.9 486.4C773.2 485.1 774.4 483.5 775.7 482.6C777.0 481.8 778.1 481.4 779.6 481.3C781.1 481.2 783.0 481.5 784.7 481.9C786.4 482.3 787.9 483.3 789.8 483.8C791.7 484.3 794.1 484.9 796.3 485.1C798.4 485.3 801.0 484.9 802.7 485.1C804.4 485.3 805.4 485.3 806.5 486.4C807.6 487.5 808.4 488.9 809.1 491.5C809.9 494.1 810.4 498.4 811.0 501.8C811.6 505.2 812.2 509.5 812.7 512.1C813.2 514.7 813.4 517.2 813.9 517.2C814.4 517.2 815.1 514.1 815.5 512.1C815.9 510.1 816.1 507.0 816.5 505.0C816.9 503.0 817.2 502.8 817.9 500.3C818.5 497.9 819.5 492.8 820.4 490.3C821.3 487.8 822.1 486.4 823.5 485.2C824.9 484.0 826.7 483.9 828.6 483.3C830.5 482.7 832.7 482.3 834.8 481.5C836.9 480.7 839.0 479.2 841.1 478.3C843.2 477.4 845.3 476.8 847.4 476.4C849.5 476.0 852.0 476.2 853.7 475.8C855.4 475.4 856.4 475.0 857.5 473.9C858.6 472.8 859.7 471.4 860.6 468.9C861.5 466.4 862.4 462.6 863.1 458.8C863.8 455.0 864.5 448.9 865.0 446.3C865.5 443.8 865.5 443.8 866.0 443.5C866.5 443.2 867.5 442.5 868.1 444.4C868.7 446.3 868.9 451.4 869.4 455.1C869.9 458.8 870.6 463.3 871.3 466.4C872.0 469.5 872.8 472.0 873.8 473.9C874.8 475.8 876.1 476.5 877.6 477.7C879.1 478.9 880.7 480.0 882.6 480.8C884.5 481.6 886.4 482.3 888.9 482.7C891.4 483.1 894.8 483.0 897.7 483.3C900.6 483.6 903.4 484.2 906.5 484.6C909.6 485.0 912.7 485.7 916.5 485.9C920.3 486.1 924.9 486.0 929.1 485.9C933.3 485.8 937.8 485.6 941.6 485.2C945.4 484.8 949.0 483.8 951.7 483.3C954.4 482.8 956.1 482.3 958.0 482.1C959.9 481.9 962.0 480.7 963.0 482.1C964.0 483.5 963.8 484.8 964.2 490.3C964.6 495.9 965.2 507.4 965.5 515.4C965.8 523.4 965.8 530.1 966.1 538.0C966.4 545.9 966.9 563.0 967.3 563.0C967.7 563.0 968.0 545.9 968.3 538.0C968.6 530.1 968.8 523.4 969.0 515.4C969.2 507.4 969.2 495.9 969.5 490.3C969.8 484.8 969.7 483.7 970.5 482.1C971.3 480.5 972.8 480.9 974.3 480.8C975.8 480.7 977.4 481.1 979.3 481.5C981.2 481.9 983.8 482.4 985.6 483.3C987.4 484.2 988.6 485.9 990.0 487.1C991.4 488.3 992.6 489.5 993.8 490.3C994.9 491.1 995.8 491.8 996.9 491.8C998.0 491.8 999.0 491.1 1000.1 490.3C1001.2 489.5 1002.1 487.8 1003.8 487.1C1005.5 486.4 1008.5 485.7 1010.1 485.9C1011.7 486.1 1012.2 487.4 1013.2 488.4C1014.2 489.4 1015.1 491.3 1015.8 492.1C1016.5 492.9 1016.9 493.7 1017.6 493.4C1018.3 493.1 1019.2 491.4 1020.2 490.3C1021.2 489.2 1022.0 487.2 1023.3 486.5C1024.5 485.8 1026.2 485.8 1027.7 485.9C1029.2 486.0 1030.7 486.3 1032.1 487.1C1033.5 487.9 1034.8 489.8 1035.9 490.9C1037.1 491.9 1038.0 493.3 1039.0 493.4C1040.0 493.5 1041.0 492.3 1042.1 491.5C1043.1 490.7 1043.9 489.1 1045.3 488.4C1046.7 487.7 1047.8 487.3 1050.3 487.1C1052.8 486.9 1057.1 487.0 1060.4 487.1C1063.8 487.2 1068.1 487.4 1070.4 487.7C1072.7 488.0 1073.1 488.1 1074.2 489.0C1075.3 489.9 1076.4 492.1 1077.3 493.4C1078.2 494.7 1079.1 496.2 1079.8 496.8C1080.5 497.4 1081.0 497.9 1081.7 497.2C1082.4 496.5 1083.4 494.2 1084.2 492.8C1085.0 491.4 1085.7 489.5 1086.7 489.0C1087.8 488.5 1089.3 489.1 1090.5 489.6C1091.7 490.1 1092.5 491.8 1093.6 492.1C1094.6 492.4 1095.6 491.9 1096.8 491.5C1098.0 491.1 1098.5 490.1 1100.6 489.6C1102.7 489.1 1105.8 488.7 1109.3 488.4C1112.8 488.1 1117.7 487.8 1121.9 487.7C1126.1 487.6 1131.5 487.6 1134.5 487.5C1137.5 487.4 1135.8 486.9 1140.0 486.9C1144.2 486.8 1155.7 486.9 1160.0 487.2C1164.3 487.5 1164.2 488.2 1166.0 488.6C1167.8 489.0 1169.3 489.5 1171.0 489.4C1172.7 489.3 1173.7 488.6 1176.0 488.2C1178.3 487.8 1178.5 487.3 1185.0 487.0C1191.5 486.7 1208.3 486.7 1215.0 486.6C1221.7 486.5 1217.2 486.6 1225.0 486.6C1232.8 486.7 1254.2 486.6 1262.0 486.9C1269.8 487.2 1269.3 488.0 1272.0 488.4C1274.7 488.8 1275.8 489.1 1278.0 489.0C1280.2 488.9 1282.2 488.4 1285.0 488.0C1287.8 487.6 1285.8 487.1 1295.0 486.9C1304.2 486.7 1326.7 486.8 1340.0 486.8C1353.3 486.8 1367.5 486.9 1375.0 487.1C1382.5 487.3 1382.2 488.0 1385.0 488.2C1387.8 488.4 1389.2 488.5 1392.0 488.4C1394.8 488.3 1399.9 487.6 1401.5 487.4" stroke="#7000ff"/>
<path d="M77.8 255.0C78.0 254.1 78.7 251.0 79.2 249.5C79.7 248.0 80.3 246.7 80.8 246.0C81.3 245.3 81.8 245.0 82.4 245.1C83.0 245.2 83.6 245.7 84.2 246.6C84.8 247.5 85.2 248.5 86.0 250.3C86.8 252.1 87.8 255.1 88.7 257.5C89.6 259.9 90.6 262.5 91.5 265.0C92.4 267.5 93.2 269.7 94.0 272.5C94.8 275.3 95.3 277.4 96.6 282.0C97.9 286.6 99.7 291.7 101.9 300.0C104.2 308.3 107.7 325.1 110.1 331.8C112.5 338.5 114.0 338.5 116.3 340.0C118.6 341.5 121.3 340.1 123.8 341.0C126.2 341.9 128.6 341.3 131.0 345.1C133.4 348.9 135.8 357.1 138.2 363.6C140.6 370.1 143.2 379.5 145.4 384.1C147.6 388.7 149.3 391.0 151.5 391.3C153.7 391.6 156.1 387.8 158.7 386.2C161.3 384.6 164.3 382.0 166.9 382.0C169.5 382.0 171.5 384.3 174.1 386.2C176.7 388.1 179.6 391.1 182.3 393.3C185.0 395.5 187.8 397.4 190.5 399.5C193.2 401.6 196.3 404.8 198.7 405.6C201.1 406.5 202.5 405.9 204.9 404.6C207.3 403.4 210.4 398.8 213.1 398.1C215.8 397.4 218.6 399.8 221.3 400.5C224.0 401.2 226.8 402.1 229.5 402.6C232.2 403.1 235.4 403.2 237.7 403.6C239.9 404.0 241.4 402.9 243.0 405.0C244.6 407.1 245.1 411.7 247.2 415.9C249.3 420.1 252.8 426.2 255.4 430.3C258.0 434.4 260.4 438.4 262.6 440.5C264.8 442.6 266.6 443.6 268.7 442.6C270.8 441.6 272.8 437.1 274.9 434.4C276.9 431.7 278.9 427.9 281.0 426.2C283.1 424.5 285.1 423.8 287.2 424.1C289.2 424.4 291.1 426.5 293.3 428.2C295.5 429.9 298.1 434.0 300.5 434.4C302.9 434.8 305.3 431.3 307.7 430.3C310.1 429.3 312.5 427.2 314.9 428.2C317.3 429.2 319.5 433.0 322.1 436.4C324.7 439.8 327.9 445.6 330.3 448.7C332.7 451.8 334.0 454.5 336.4 454.9C338.8 455.2 342.2 450.8 344.6 450.8C347.0 450.8 348.9 453.7 350.8 454.9C352.7 456.1 354.2 458.4 355.9 457.9C357.6 457.4 359.1 453.7 361.0 451.8C362.9 449.9 365.4 447.2 367.2 446.7C369.0 446.2 370.2 449.2 372.0 449.0C373.8 448.8 375.8 446.7 378.2 445.4C380.6 444.1 384.0 440.6 386.4 441.3C388.8 442.0 390.6 445.8 392.6 449.5C394.7 453.2 396.6 460.4 398.7 463.8C400.8 467.2 402.7 469.5 404.9 470.0C407.1 470.5 410.1 465.9 412.1 466.9C414.2 467.9 415.5 471.2 417.2 476.2C418.9 481.2 420.6 491.2 422.3 496.7C424.0 502.2 425.9 509.0 427.4 509.0C428.9 509.0 429.9 502.2 431.5 496.7C433.1 491.2 435.0 481.3 436.7 476.2C438.4 471.1 440.1 468.1 441.8 465.9C443.5 463.7 445.2 462.5 446.9 462.8C448.6 463.1 450.2 466.0 452.1 467.9C454.0 469.8 456.1 472.7 458.2 474.1C460.2 475.5 462.3 475.5 464.4 476.2C466.4 476.9 468.4 479.6 470.5 478.2C472.6 476.8 474.8 471.3 476.7 467.9C478.6 464.5 480.1 459.9 481.8 457.7C483.5 455.5 485.4 452.9 486.9 454.6C488.4 456.3 489.6 458.1 491.0 467.9C492.4 477.6 493.6 499.9 495.1 513.1C496.7 526.3 498.8 546.9 500.3 546.9C501.8 546.9 503.4 522.1 504.3 513.3C505.2 504.5 505.0 499.8 505.6 494.1C506.2 488.5 507.4 481.1 508.2 479.4C509.0 477.7 509.9 480.9 510.7 483.8C511.5 486.7 512.4 492.9 513.3 496.7C514.2 500.5 515.0 504.4 515.9 506.9C516.8 509.3 517.5 511.6 518.4 511.4C519.2 511.2 520.1 508.9 521.0 505.6C521.9 502.3 522.8 497.1 523.6 491.5C524.5 485.9 525.0 477.8 526.1 472.3C527.2 466.9 528.4 462.2 530.0 458.8C531.6 455.4 533.8 453.3 535.7 451.8C537.6 450.3 539.9 449.5 541.5 449.9C543.1 450.3 544.3 451.3 545.4 454.4C546.5 457.5 547.2 461.9 547.9 468.5C548.6 475.1 549.2 483.9 549.8 494.1C550.4 504.4 550.9 497.0 551.4 530.0C551.9 563.0 552.0 665.0 552.6 692.0C553.2 719.0 554.5 719.0 555.3 692.0C556.1 665.0 556.8 563.0 557.3 530.0C557.8 497.0 557.9 505.2 558.4 494.1C558.9 483.0 559.5 470.5 560.1 463.3C560.7 456.1 561.2 453.6 562.0 451.2C562.8 448.8 563.6 448.3 564.6 448.6C565.6 448.9 566.4 450.9 567.8 453.1C569.2 455.4 571.2 459.5 572.9 462.1C574.6 464.7 576.4 467.0 578.1 468.5C579.8 470.0 581.9 470.5 583.2 471.0C584.5 471.5 584.9 471.7 586.0 471.7C587.1 471.7 588.9 470.7 590.1 471.0C591.3 471.3 592.2 471.9 593.3 473.6C594.4 475.3 595.4 477.9 596.5 481.3C597.6 484.7 598.7 488.8 599.7 494.1C600.7 499.4 601.5 507.3 602.3 513.3C603.1 519.3 603.7 525.8 604.5 530.0C605.3 534.2 606.2 538.8 606.9 538.8C607.6 538.8 608.1 535.3 608.7 530.0C609.3 524.7 609.9 513.5 610.6 506.9C611.4 500.3 612.2 494.8 613.2 490.3C614.2 485.8 615.2 482.5 616.4 480.0C617.6 477.5 618.8 476.5 620.2 475.5C621.6 474.5 623.3 474.1 624.7 474.2C626.1 474.3 627.3 475.0 628.6 476.2C629.9 477.4 631.1 479.8 632.4 481.3C633.7 482.8 635.0 484.0 636.3 485.1C637.6 486.2 638.6 486.6 640.1 487.7C641.6 488.8 643.6 490.8 645.2 491.5C646.8 492.2 648.4 492.4 649.7 492.2C651.0 492.0 651.9 491.3 652.9 490.3C653.9 489.3 654.9 487.7 656.0 486.4C657.1 485.1 658.3 483.4 659.8 482.6C661.3 481.9 663.1 481.9 665.0 481.9C666.9 481.9 669.3 482.7 671.4 482.6C673.5 482.5 675.9 482.0 677.8 481.3C679.7 480.6 681.2 479.4 682.9 478.7C684.6 477.9 686.4 477.6 688.1 476.8C689.8 476.0 691.5 474.5 693.2 473.6C694.9 472.8 696.8 471.7 698.3 471.7C699.8 471.7 700.9 472.5 702.2 473.6C703.5 474.7 704.7 476.4 706.0 478.1C707.3 479.8 708.7 481.6 709.8 483.8C710.9 486.0 711.8 487.6 712.4 491.5C713.0 495.4 713.3 500.5 713.7 506.9C714.1 513.3 714.4 511.1 715.0 530.0C715.6 548.9 716.5 620.0 717.5 620.0C718.5 620.0 720.1 548.9 720.7 530.0C721.4 511.1 721.1 513.9 721.4 506.9C721.7 499.8 722.1 492.4 722.7 487.7C723.3 483.0 724.1 480.8 725.2 478.7C726.3 476.6 727.6 476.0 729.1 474.9C730.6 473.8 733.1 472.9 734.2 472.3C735.4 471.7 734.9 471.6 736.0 471.0C737.1 470.4 739.6 469.6 741.1 468.5C742.6 467.4 743.8 466.5 745.0 464.6C746.2 462.7 747.4 459.9 748.2 456.9C749.1 453.9 749.5 451.2 750.1 446.7C750.7 442.2 750.9 436.3 751.6 430.0C752.3 423.7 753.6 413.5 754.3 409.0C754.9 404.5 755.1 403.2 755.5 403.2C755.9 403.2 756.3 404.5 756.7 409.0C757.1 413.5 757.7 424.4 758.1 430.0C758.5 435.6 758.6 438.5 759.1 442.8C759.6 447.1 760.2 452.2 761.0 455.6C761.8 459.0 762.5 461.2 763.6 463.3C764.7 465.4 766.0 467.1 767.4 468.5C768.8 469.9 770.3 470.8 771.9 471.7C773.5 472.6 775.3 473.2 777.0 474.2C778.7 475.1 780.5 476.3 782.2 477.4C783.9 478.5 785.6 479.6 787.3 480.6C789.0 481.6 790.7 482.6 792.4 483.2C794.1 483.8 795.8 484.2 797.5 484.5C799.2 484.8 801.0 484.8 802.7 485.1C804.4 485.4 806.3 485.8 807.8 486.4C809.3 487.0 810.3 487.9 811.6 489.0C812.9 490.1 814.5 491.8 815.5 492.8C816.5 493.9 816.9 494.9 817.5 495.3C818.1 495.7 818.3 495.9 819.1 495.3C819.9 494.7 821.1 492.8 822.3 491.5C823.5 490.2 824.6 488.8 826.1 487.7C827.6 486.6 829.0 485.7 831.1 485.2C833.2 484.7 835.9 484.6 838.6 484.6C841.3 484.6 843.8 485.1 847.4 485.2C851.0 485.3 855.8 485.3 860.0 485.2C864.2 485.1 869.0 484.6 872.5 484.6C876.0 484.6 879.0 484.5 881.3 485.2C883.6 485.9 884.9 487.5 886.4 489.0C887.9 490.5 889.0 492.5 890.1 494.0C891.2 495.5 892.3 497.1 893.3 497.8C894.2 498.5 894.9 498.8 895.8 498.4C896.7 498.0 897.8 496.6 898.9 495.3C900.0 494.0 901.4 491.6 902.7 490.3C904.0 489.0 904.2 488.2 906.5 487.7C908.8 487.2 912.7 487.1 916.5 487.1C920.3 487.1 924.9 487.5 929.1 487.7C933.3 487.9 938.5 488.0 941.6 488.4C944.7 488.8 946.0 489.8 947.9 490.3C949.8 490.8 951.2 491.6 952.9 491.5C954.6 491.4 955.7 490.2 958.0 489.6C960.3 489.0 963.2 488.1 966.8 487.7C970.3 487.3 975.5 487.0 979.3 487.1C983.1 487.2 986.6 488.0 989.4 488.4C992.2 488.8 993.9 489.3 996.0 489.6C998.1 489.9 1000.0 490.4 1002.0 490.2C1004.0 490.0 1005.0 488.7 1008.0 488.2C1011.0 487.7 1015.5 487.5 1020.0 487.2C1024.5 486.9 1030.0 486.6 1035.0 486.6C1040.0 486.6 1045.0 486.8 1050.0 487.0C1055.0 487.2 1059.2 487.6 1065.0 487.8C1070.8 488.0 1080.8 487.9 1085.0 488.2C1089.2 488.5 1088.5 488.8 1090.0 489.4C1091.5 490.0 1092.5 491.3 1094.0 491.6C1095.5 491.9 1096.3 491.2 1099.0 491.0C1101.7 490.8 1106.5 490.5 1110.0 490.2C1113.5 489.9 1115.0 489.8 1120.0 489.4C1125.0 489.0 1135.0 487.9 1140.0 487.8C1145.0 487.7 1147.0 488.5 1150.0 488.8C1153.0 489.1 1155.3 489.4 1158.0 489.4C1160.7 489.4 1162.3 489.1 1166.0 488.8C1169.7 488.5 1170.2 487.9 1180.0 487.6C1189.8 487.3 1215.8 487.1 1225.0 487.2C1234.2 487.3 1232.3 488.1 1235.0 488.4C1237.7 488.7 1238.8 489.2 1241.0 489.2C1243.2 489.2 1245.2 488.7 1248.0 488.4C1250.8 488.1 1249.3 487.4 1258.0 487.2C1266.7 487.0 1291.0 486.8 1300.0 487.0C1309.0 487.2 1309.0 488.0 1312.0 488.4C1315.0 488.8 1315.8 489.1 1318.0 489.1C1320.2 489.1 1322.2 488.7 1325.0 488.4C1327.8 488.1 1328.3 487.4 1335.0 487.2C1341.7 487.0 1358.3 486.8 1365.0 487.0C1371.7 487.2 1372.0 487.9 1375.0 488.2C1378.0 488.5 1378.6 488.8 1383.0 488.8C1387.4 488.8 1398.4 488.1 1401.5 488.0" stroke="#a000c0"/>
<path d="M77.5 257.3C77.7 256.7 78.2 254.5 78.6 253.6C79.0 252.7 79.5 252.1 80.0 251.8C80.5 251.5 80.9 251.4 81.3 251.7C81.7 252.0 82.1 252.5 82.6 253.5C83.0 254.5 83.2 255.4 84.0 257.6C84.8 259.8 86.1 263.5 87.2 266.6C88.3 269.7 89.5 273.6 90.4 276.2C91.3 278.8 91.3 278.0 92.4 282.0C93.5 286.0 95.2 292.9 97.2 300.0C99.2 307.1 102.4 318.6 104.4 324.6C106.5 330.6 107.6 333.5 109.5 335.9C111.4 338.3 113.2 339.2 115.6 339.0C118.0 338.8 121.4 334.7 123.8 334.9C126.2 335.1 127.8 335.9 130.0 340.0C132.2 344.1 134.8 352.5 137.2 359.5C139.6 366.5 142.3 376.4 144.4 382.0C146.5 387.6 148.0 390.7 149.5 393.3C151.0 395.9 152.1 397.2 153.6 397.4C155.1 397.6 157.0 395.9 158.7 394.4C160.4 392.9 162.3 389.6 163.8 388.2C165.3 386.8 166.4 385.8 167.9 386.2C169.4 386.6 171.0 388.4 173.1 390.3C175.2 392.2 177.7 395.3 180.3 397.4C182.9 399.4 185.8 401.1 188.5 402.6C191.2 404.2 194.5 406.0 196.7 406.7C198.9 407.4 199.9 407.9 201.8 406.7C203.7 405.5 205.7 401.6 207.9 399.5C210.1 397.4 212.9 394.5 215.1 393.9C217.3 393.3 218.9 394.7 221.3 396.0C223.7 397.3 226.8 400.8 229.5 401.5C232.2 402.2 235.3 400.0 237.7 400.5C240.1 401.0 242.4 403.6 243.8 404.6C245.2 405.6 244.4 402.8 246.2 406.7C248.0 410.6 251.7 422.2 254.4 428.2C257.1 434.2 260.4 439.8 262.6 442.6C264.8 445.4 265.8 446.0 267.7 445.0C269.6 444.0 271.6 440.2 273.8 436.4C276.0 432.6 278.9 425.0 281.0 422.1C283.1 419.2 284.1 418.7 286.2 419.0C288.2 419.3 290.8 422.2 293.3 424.1C295.9 426.0 299.1 429.6 301.5 430.3C303.9 431.0 305.5 428.6 307.7 428.2C309.9 427.8 312.5 426.9 314.9 427.8C317.3 428.7 319.5 430.8 322.1 433.3C324.7 435.8 327.9 440.6 330.3 442.6C332.7 444.7 334.0 445.8 336.4 445.6C338.8 445.4 341.9 442.9 344.6 441.5C347.3 440.1 350.4 437.6 352.8 437.4C355.2 437.2 356.6 439.8 359.0 440.5C361.4 441.2 364.5 441.6 367.2 441.5C369.9 441.4 372.0 440.6 375.0 440.0C378.0 439.4 382.8 438.3 385.4 438.2C388.0 438.1 388.6 435.3 390.5 439.2C392.4 443.1 395.0 453.9 396.7 461.8C398.4 469.7 399.3 480.4 400.8 486.4C402.3 492.4 404.4 497.3 405.9 497.7C407.4 498.1 408.3 493.8 410.0 488.5C411.7 483.2 414.3 470.8 416.2 465.9C418.1 461.0 419.8 458.7 421.3 459.0C422.8 459.3 423.9 463.7 425.4 467.9C426.9 472.1 429.1 480.7 430.5 484.4C431.9 488.1 432.4 489.9 433.6 489.9C434.8 489.9 436.3 485.5 437.7 484.4C439.1 483.3 440.4 481.9 441.8 483.3C443.2 484.7 444.5 489.4 445.9 492.6C447.3 495.8 448.9 502.4 450.4 502.4C451.9 502.4 453.5 497.7 455.1 492.6C456.8 487.6 458.8 476.0 460.3 472.1C461.9 468.2 463.2 468.0 464.4 469.0C465.6 470.0 466.4 476.3 467.4 478.2C468.4 480.1 469.3 480.6 470.5 480.3C471.7 480.0 473.2 478.6 474.6 476.2C476.0 473.8 477.2 468.5 478.7 465.9C480.2 463.3 482.1 461.1 483.8 460.8C485.5 460.5 487.1 461.9 489.0 463.8C490.9 465.7 493.9 470.5 495.1 472.1C496.3 473.7 495.3 473.0 496.0 473.6C496.7 474.2 498.1 475.6 499.2 475.5C500.3 475.4 501.3 473.9 502.4 472.9C503.5 471.9 504.5 470.1 505.6 469.7C506.7 469.3 507.8 468.9 508.8 470.4C509.8 471.9 510.5 474.8 511.4 478.7C512.2 482.6 513.0 489.2 513.9 494.1C514.8 499.0 515.6 504.6 516.5 508.2C517.4 511.8 518.2 515.2 519.1 515.9C520.0 516.5 520.8 514.5 521.6 512.1C522.5 509.8 523.3 503.6 524.2 501.8C525.1 500.0 525.8 500.7 526.8 501.2C527.8 501.7 528.9 505.3 530.0 505.0C531.1 504.7 532.2 502.1 533.2 499.2C534.2 496.3 534.8 491.5 535.7 487.7C536.7 483.9 537.8 478.9 538.9 476.2C540.0 473.5 541.2 471.9 542.2 471.7C543.2 471.5 543.9 472.4 544.7 474.9C545.6 477.3 546.4 482.3 547.3 486.4C548.1 490.4 549.0 496.1 549.8 499.2C550.6 502.3 551.5 505.0 552.2 505.0C553.0 505.0 553.5 502.7 554.3 499.2C555.1 495.7 556.0 488.9 556.9 483.8C557.8 478.7 558.6 472.2 559.5 468.5C560.4 464.8 560.9 462.8 562.0 461.4C563.1 460.0 564.6 460.1 565.9 460.1C567.2 460.1 568.3 460.9 569.7 461.4C571.1 461.9 572.7 461.2 574.2 463.0C575.7 464.8 577.3 468.8 578.6 472.3C579.9 475.8 580.7 480.4 581.8 483.8C582.9 487.2 583.8 490.7 585.0 492.8C586.2 494.9 587.5 496.1 588.8 496.7C590.1 497.3 591.5 496.4 592.7 496.7C593.9 497.0 595.0 496.9 595.9 498.6C596.8 500.3 597.5 503.4 598.4 506.9C599.2 510.4 600.2 516.3 601.0 519.7C601.8 523.1 602.6 527.2 603.2 527.2C603.8 527.2 604.2 523.1 604.8 519.7C605.4 516.3 606.1 511.6 606.8 506.9C607.4 502.2 608.0 496.4 608.7 491.5C609.5 486.6 610.4 481.0 611.3 477.4C612.1 473.8 612.8 471.4 613.8 469.7C614.8 468.0 615.9 467.2 617.0 467.2C618.1 467.2 619.1 468.4 620.2 469.7C621.3 471.0 622.2 472.8 623.4 474.9C624.6 477.0 626.0 480.2 627.3 482.6C628.6 485.0 629.8 487.4 631.1 489.0C632.4 490.6 633.7 491.8 635.0 492.2C636.3 492.6 637.5 491.8 638.8 491.5C640.1 491.2 641.4 490.6 642.7 490.3C644.0 490.0 645.3 490.2 646.5 489.6C647.7 489.0 648.6 487.8 649.7 486.4C650.8 485.0 651.9 482.5 652.9 481.3C653.9 480.1 654.9 479.5 656.0 479.4C657.1 479.3 658.5 480.1 659.8 480.6C661.1 481.1 662.4 482.6 663.7 482.6C665.0 482.6 666.2 481.5 667.5 480.6C668.8 479.7 670.1 478.1 671.4 477.4C672.7 476.7 673.8 476.2 675.2 476.2C676.6 476.2 678.2 476.9 679.7 477.4C681.2 477.9 682.6 478.9 684.2 479.4C685.8 479.9 687.6 480.3 689.3 480.6C691.0 480.9 692.8 481.4 694.5 481.3C696.2 481.2 698.0 480.5 699.6 480.0C701.2 479.5 702.8 478.3 704.1 478.1C705.4 477.9 706.3 477.9 707.3 478.7C708.2 479.4 708.9 480.5 709.8 482.6C710.6 484.7 711.5 488.1 712.4 491.5C713.3 494.9 714.1 499.9 715.0 503.1C715.9 506.3 716.8 509.6 717.5 510.8C718.2 512.0 718.9 511.4 719.5 510.1C720.1 508.8 720.8 505.8 721.4 503.1C722.0 500.4 722.5 496.7 723.3 494.1C724.0 491.5 724.8 489.0 725.9 487.7C727.0 486.4 728.3 486.9 729.7 486.4C731.1 485.9 733.1 485.4 734.2 484.5C735.3 483.6 735.6 482.3 736.5 481.3C737.4 480.3 738.6 479.4 739.8 478.7C741.0 478.0 742.4 477.5 743.7 477.4C745.0 477.3 746.2 477.6 747.5 478.1C748.8 478.6 750.3 479.4 751.4 480.6C752.5 481.8 753.3 482.9 753.9 485.1C754.5 487.4 754.9 489.4 755.2 494.1C755.5 498.8 755.7 507.3 755.9 513.3C756.1 519.3 756.1 500.2 756.4 530.0C756.7 559.8 757.3 665.0 757.9 692.0C758.5 719.0 759.2 719.0 759.7 692.0C760.2 665.0 760.7 559.8 761.0 530.0C761.3 500.2 761.2 519.3 761.4 513.3C761.5 507.3 761.6 499.4 761.9 494.1C762.1 488.8 762.4 484.3 762.9 481.3C763.4 478.3 763.9 477.4 764.8 476.2C765.7 475.0 766.7 474.6 768.1 474.2C769.5 473.8 771.5 473.5 773.2 473.6C774.9 473.7 776.6 474.4 778.3 474.9C780.0 475.4 781.7 476.2 783.4 476.8C785.1 477.4 786.9 478.2 788.6 478.7C790.3 479.2 792.1 479.6 793.7 480.0C795.3 480.4 796.9 480.7 798.2 481.3C799.5 481.9 800.2 482.8 801.4 483.8C802.6 484.8 804.0 486.7 805.2 487.1C806.4 487.5 807.3 486.9 808.4 486.4C809.5 485.8 810.3 484.5 811.6 483.8C812.9 483.1 814.6 482.3 816.0 482.1C817.4 481.9 818.5 482.1 819.8 482.7C821.0 483.3 822.0 484.8 823.5 485.9C825.0 486.9 826.9 488.4 828.6 489.0C830.3 489.6 832.1 489.2 833.6 489.6C835.1 490.0 836.1 490.7 837.4 491.5C838.6 492.3 839.9 494.0 841.1 494.6C842.4 495.2 843.6 495.5 844.9 495.3C846.2 495.1 847.5 494.4 848.7 493.4C850.0 492.3 850.9 490.4 852.4 489.0C853.9 487.6 855.6 486.1 857.5 485.2C859.4 484.2 861.6 483.7 863.7 483.3C865.8 482.9 867.9 482.9 870.0 482.7C872.1 482.5 874.4 482.1 876.3 482.1C878.2 482.1 879.8 482.2 881.3 482.7C882.8 483.2 883.8 484.0 885.1 485.2C886.4 486.4 887.6 488.5 888.9 489.6C890.1 490.8 891.4 491.7 892.6 492.1C893.9 492.5 895.1 492.4 896.4 492.1C897.7 491.8 899.0 490.9 900.2 490.3C901.5 489.7 902.2 488.8 903.9 488.4C905.6 488.0 907.7 488.0 910.2 487.7C912.7 487.4 915.9 486.9 919.0 486.5C922.1 486.1 925.8 485.4 929.1 485.2C932.5 485.0 936.0 485.0 939.1 485.2C942.2 485.4 945.4 486.1 947.9 486.5C950.4 486.9 952.1 487.6 954.2 487.7C956.3 487.8 958.4 487.5 960.5 487.1C962.6 486.7 964.7 485.6 966.8 485.2C968.9 484.8 970.5 484.6 973.0 484.6C975.5 484.6 979.0 484.9 981.8 485.2C984.6 485.5 987.4 486.5 990.0 486.5C992.6 486.5 995.0 485.6 997.5 485.2C1000.0 484.8 1002.2 484.3 1005.1 484.0C1008.0 483.7 1011.3 483.4 1015.1 483.3C1018.9 483.2 1023.9 483.1 1027.7 483.1C1031.5 483.1 1034.6 483.1 1037.7 483.3C1040.8 483.6 1042.9 484.2 1046.5 484.6C1050.1 485.0 1054.9 485.3 1059.1 485.5C1063.3 485.7 1067.5 485.7 1071.7 485.9C1075.9 486.1 1080.0 486.4 1084.2 486.7C1088.4 487.0 1092.6 487.3 1096.8 487.5C1101.0 487.7 1104.1 487.7 1109.3 487.7C1114.5 487.7 1123.1 487.8 1128.2 487.7C1133.3 487.6 1128.0 487.0 1140.0 486.8C1152.0 486.6 1180.0 486.6 1200.0 486.6C1220.0 486.6 1240.0 486.6 1260.0 486.6C1280.0 486.6 1300.0 486.6 1320.0 486.6C1340.0 486.6 1366.4 486.6 1380.0 486.6C1393.6 486.6 1397.9 486.6 1401.5 486.6" stroke="#ff0033"/>
<path d="M55.2 177.6C55.5 177.6 56.7 177.5 57.2 177.8C57.8 178.1 58.0 178.2 58.5 179.5C59.0 180.8 59.2 180.6 60.4 185.5C61.6 190.4 63.6 201.5 65.5 209.0C67.4 216.5 69.5 223.8 71.7 230.6C73.9 237.4 76.3 243.2 78.8 250.0C81.3 256.9 84.0 263.4 86.6 271.7C89.2 280.0 92.0 291.5 94.5 300.0C97.0 308.5 99.5 316.6 101.3 322.6C103.1 328.6 103.9 332.3 105.4 335.9C106.9 339.5 108.6 342.1 110.5 344.1C112.4 346.2 114.7 346.7 116.7 348.2C118.8 349.7 120.4 349.7 122.8 353.3C125.2 356.9 128.3 363.2 131.0 369.7C133.7 376.2 136.6 385.3 139.2 392.3C141.8 399.3 144.3 407.6 146.4 411.8C148.5 416.0 149.8 417.0 151.5 417.3C153.2 417.6 154.8 415.9 156.7 413.8C158.6 411.7 160.9 406.7 162.8 404.6C164.7 402.6 166.0 401.0 167.9 401.5C169.8 402.0 171.7 405.1 174.1 407.7C176.5 410.3 179.6 413.6 182.3 416.9C185.0 420.1 188.1 423.8 190.5 427.2C192.9 430.6 195.0 435.0 196.7 437.4C198.4 439.8 198.9 440.5 200.8 441.5C202.7 442.5 205.5 443.4 207.9 443.6C210.3 443.8 213.0 443.6 215.1 442.6C217.2 441.6 218.6 440.3 220.3 437.4C222.0 434.5 223.5 428.2 225.4 425.1C227.3 422.0 229.6 419.3 231.5 419.0C233.4 418.7 234.8 419.7 236.7 423.1C238.6 426.5 240.9 435.6 242.8 439.5C244.7 443.4 245.6 442.4 248.2 446.7C250.8 451.0 255.6 460.8 258.5 465.1C261.4 469.4 263.4 472.3 265.6 472.3C267.8 472.3 269.6 469.4 271.8 465.1C274.0 460.8 276.4 451.0 279.0 446.7C281.6 442.4 284.3 439.8 287.2 439.1C290.1 438.4 293.0 442.4 296.4 442.6C299.8 442.8 303.9 440.9 307.7 440.1C311.5 439.4 315.9 437.9 319.0 438.1C322.1 438.3 323.6 440.1 326.2 441.5C328.8 442.9 331.7 446.1 334.4 446.3C337.1 446.5 339.9 444.2 342.6 442.6C345.3 441.0 348.4 438.1 350.8 436.4C353.2 434.7 354.5 432.3 356.9 432.3C359.3 432.3 362.4 434.7 365.1 436.4C367.8 438.1 370.9 439.5 373.3 442.6C375.7 445.7 377.6 451.0 379.5 454.9C381.4 458.8 383.0 465.7 384.5 465.7C386.0 465.7 387.7 459.0 388.7 454.9C389.7 450.8 389.2 446.6 390.5 441.3C391.8 436.0 395.0 425.7 396.7 422.8C398.4 419.9 399.1 422.1 400.8 423.8C402.5 425.5 405.0 432.2 406.9 433.1C408.8 434.0 410.2 431.4 412.1 429.0C414.0 426.6 416.1 420.9 418.2 418.7C420.2 416.5 422.3 415.6 424.4 415.6C426.4 415.6 428.6 417.8 430.5 418.7C432.4 419.6 433.7 422.2 435.6 420.8C437.5 419.4 439.6 414.9 441.8 410.5C444.0 406.1 447.0 397.8 449.0 394.1C451.0 390.4 452.3 388.5 453.7 388.5C455.1 388.5 456.1 390.4 457.2 394.1C458.3 397.8 459.3 400.9 460.3 410.5C461.3 420.1 462.3 439.9 463.3 451.5C464.3 463.1 465.5 474.7 466.4 480.3C467.3 485.9 467.6 486.1 468.5 485.4C469.4 484.7 470.5 481.8 471.5 476.2C472.5 470.6 473.6 460.4 474.6 451.5C475.6 442.6 476.5 429.8 477.7 422.8C478.9 415.8 480.4 410.9 481.8 409.5C483.2 408.1 484.5 412.2 485.9 414.6C487.3 417.0 488.6 421.6 490.0 423.8C491.4 426.0 492.6 428.4 494.1 427.9C495.6 427.4 497.5 422.9 499.2 420.8C500.9 418.8 502.8 415.6 504.4 415.6C505.9 415.6 507.5 418.7 508.5 420.8C509.5 422.9 510.2 426.8 510.5 428.0" stroke="#ff0000"/>
</g>
<g shape-rendering="crispEdges"><rect x="44" y="488" width="1368" height="1" fill="#000"/><rect x="199" y="60" width="1" height="610" fill="#000"/></g>
<text x="716.1" y="30.5" font-size="24.2" text-anchor="middle" fill="#111" textLength="322.5" lengthAdjust="spacingAndGlyphs">Temps groupe après calibrage</text>
<text x="728.7" y="84.6" font-size="24.4" font-weight="bold" text-anchor="middle" fill="#404040" textLength="142.5" lengthAdjust="spacingAndGlyphs">Group Delay</text>
<text x="38" y="54" font-size="10" font-weight="bold" fill="#222">s</text>
<text x="42.9" y="658.2" font-size="11.8" text-anchor="end" fill="#1a1a1a" stroke="#1a1a1a" stroke-width="0.25" letter-spacing="-0.25">-30m</text>
<text x="42.9" y="630.7" font-size="11.8" text-anchor="end" fill="#808080" letter-spacing="-0.25">-25m</text>
<text x="42.9" y="603.1" font-size="11.8" text-anchor="end" fill="#1a1a1a" stroke="#1a1a1a" stroke-width="0.25" letter-spacing="-0.25">-20m</text>
<text x="42.9" y="575.6" font-size="11.8" text-anchor="end" fill="#808080" letter-spacing="-0.25">-15m</text>
<text x="42.9" y="548.0" font-size="11.8" text-anchor="end" fill="#1a1a1a" stroke="#1a1a1a" stroke-width="0.25" letter-spacing="-0.25">-10m</text>
<text x="42.9" y="520.5" font-size="11.8" text-anchor="end" fill="#808080" letter-spacing="-0.25">-5m</text>
<text x="42.9" y="465.4" font-size="11.8" text-anchor="end" fill="#808080" letter-spacing="-0.25">5m</text>
<text x="42.9" y="437.8" font-size="11.8" text-anchor="end" fill="#1a1a1a" stroke="#1a1a1a" stroke-width="0.25" letter-spacing="-0.25">10m</text>
<text x="42.9" y="410.3" font-size="11.8" text-anchor="end" fill="#808080" letter-spacing="-0.25">15m</text>
<text x="42.9" y="382.8" font-size="11.8" text-anchor="end" fill="#1a1a1a" stroke="#1a1a1a" stroke-width="0.25" letter-spacing="-0.25">20m</text>
<text x="42.9" y="355.2" font-size="11.8" text-anchor="end" fill="#808080" letter-spacing="-0.25">25m</text>
<text x="42.9" y="327.7" font-size="11.8" text-anchor="end" fill="#1a1a1a" stroke="#1a1a1a" stroke-width="0.25" letter-spacing="-0.25">30m</text>
<text x="42.9" y="300.1" font-size="11.8" text-anchor="end" fill="#808080" letter-spacing="-0.25">35m</text>
<text x="42.9" y="272.6" font-size="11.8" text-anchor="end" fill="#1a1a1a" stroke="#1a1a1a" stroke-width="0.25" letter-spacing="-0.25">40m</text>
<text x="42.9" y="245.0" font-size="11.8" text-anchor="end" fill="#808080" letter-spacing="-0.25">45m</text>
<text x="42.9" y="217.4" font-size="11.8" text-anchor="end" fill="#1a1a1a" stroke="#1a1a1a" stroke-width="0.25" letter-spacing="-0.25">50m</text>
<text x="42.9" y="189.9" font-size="11.8" text-anchor="end" fill="#808080" letter-spacing="-0.25">55m</text>
<text x="42.9" y="162.4" font-size="11.8" text-anchor="end" fill="#1a1a1a" stroke="#1a1a1a" stroke-width="0.25" letter-spacing="-0.25">60m</text>
<text x="42.9" y="134.8" font-size="11.8" text-anchor="end" fill="#808080" letter-spacing="-0.25">65m</text>
<text x="42.9" y="107.2" font-size="11.8" text-anchor="end" fill="#1a1a1a" stroke="#1a1a1a" stroke-width="0.25" letter-spacing="-0.25">70m</text>
<text x="42.9" y="79.7" font-size="11.8" text-anchor="end" fill="#808080" letter-spacing="-0.25">75m</text>
<rect x="19.5" y="480.5" width="24" height="16" fill="#fff" stroke="#0000ff" stroke-width="1" shape-rendering="crispEdges"/>
<text x="31.6" y="493.5" font-size="11.8" text-anchor="middle" fill="#0000ff" letter-spacing="-0.5">15u</text>
<text x="46.5" y="683.3" font-size="11.7" text-anchor="middle" fill="#222" letter-spacing="-0.4">18</text>
<text x="65.8" y="683.3" font-size="11.7" text-anchor="middle" fill="#222" letter-spacing="-0.4">20</text>
<text x="144.3" y="683.3" font-size="11.7" text-anchor="middle" fill="#222" letter-spacing="-0.4">30</text>
<text x="243.1" y="683.3" font-size="11.7" text-anchor="middle" fill="#222" letter-spacing="-0.4">50</text>
<text x="278.3" y="683.3" font-size="11.7" text-anchor="middle" fill="#222" letter-spacing="-0.4">60</text>
<text x="308.2" y="683.3" font-size="11.7" text-anchor="middle" fill="#222" letter-spacing="-0.4">70</text>
<text x="334.0" y="683.3" font-size="11.7" text-anchor="middle" fill="#222" letter-spacing="-0.4">80</text>
<text x="356.8" y="683.3" font-size="11.7" text-anchor="middle" fill="#222" letter-spacing="-0.4">90</text>
<text x="377.1" y="683.3" font-size="11.7" text-anchor="middle" fill="#222" letter-spacing="-0.4">100</text>
<text x="511.2" y="683.3" font-size="11.7" text-anchor="middle" fill="#222" letter-spacing="-0.4">200</text>
<text x="589.7" y="683.3" font-size="11.7" text-anchor="middle" fill="#222" letter-spacing="-0.4">300</text>
<text x="645.3" y="683.3" font-size="11.7" text-anchor="middle" fill="#222" letter-spacing="-0.4">400</text>
<text x="688.5" y="683.3" font-size="11.7" text-anchor="middle" fill="#222" letter-spacing="-0.4">500</text>
<text x="723.7" y="683.3" font-size="11.7" text-anchor="middle" fill="#222" letter-spacing="-0.4">600</text>
<text x="753.6" y="683.3" font-size="11.7" text-anchor="middle" fill="#222" letter-spacing="-0.4">700</text>
<text x="779.4" y="683.3" font-size="11.7" text-anchor="middle" fill="#222" letter-spacing="-0.4">800</text>
<text x="802.2" y="683.3" font-size="11.7" text-anchor="middle" fill="#222" letter-spacing="-0.4">900</text>
<text x="822.5" y="683.3" font-size="11.7" text-anchor="middle" fill="#222" letter-spacing="-0.4">1k</text>
<text x="956.6" y="683.3" font-size="11.7" text-anchor="middle" fill="#222" letter-spacing="-0.4">2k</text>
<text x="1035.1" y="683.3" font-size="11.7" text-anchor="middle" fill="#222" letter-spacing="-0.4">3k</text>
<text x="1090.7" y="683.3" font-size="11.7" text-anchor="middle" fill="#222" letter-spacing="-0.4">4k</text>
<text x="1133.9" y="683.3" font-size="11.7" text-anchor="middle" fill="#222" letter-spacing="-0.4">5k</text>
<text x="1169.1" y="683.3" font-size="11.7" text-anchor="middle" fill="#222" letter-spacing="-0.4">6k</text>
<text x="1199.0" y="683.3" font-size="11.7" text-anchor="middle" fill="#222" letter-spacing="-0.4">7k</text>
<text x="1224.8" y="683.3" font-size="11.7" text-anchor="middle" fill="#222" letter-spacing="-0.4">8k</text>
<text x="1247.6" y="683.3" font-size="11.7" text-anchor="middle" fill="#222" letter-spacing="-0.4">9k</text>
<text x="1267.9" y="683.3" font-size="11.7" text-anchor="middle" fill="#222" letter-spacing="-0.4">10k</text>
<text x="1303.2" y="683.3" font-size="11.7" text-anchor="middle" fill="#8a8a8a" letter-spacing="-0.4">12k</text>
<text x="1333.0" y="683.3" font-size="11.7" text-anchor="middle" fill="#8a8a8a" letter-spacing="-0.4">14k</text>
<text x="1370.6" y="683.3" font-size="11.7" text-anchor="middle" fill="#8a8a8a" letter-spacing="-0.4">17k</text>
<text x="1427.5" y="683.3" font-size="11.7" text-anchor="end" fill="#222" letter-spacing="-0.4">21kHz</text>
<rect x="186.5" y="669.5" width="25" height="16" fill="#fff" stroke="#0000ff" stroke-width="1" shape-rendering="crispEdges"/>
<text x="199.4" y="683.3" font-size="11.7" text-anchor="middle" fill="#0000ff" letter-spacing="-0.4">39,9</text>
<rect x="8.6" y="698.6" width="12.8" height="12.8" rx="3" ry="3" fill="#fff" stroke="#0a78fa" stroke-width="1.2"/>
<path d="M11.3 705.6 L13.7 708.5 L18.6 701.4" fill="none" stroke="#0a78fa" stroke-width="1.9" stroke-linecap="round" stroke-linejoin="round"/>
<text x="27.9" y="709.9" font-size="12" fill="#3c3cd2" textLength="59.3" lengthAdjust="spacingAndGlyphs">3: L août 11</text>
<rect x="192" y="705" width="51" height="2" fill="#3c3cd2" shape-rendering="crispEdges"/>
<rect x="203" y="698" width="29" height="16" rx="3.5" ry="3.5" fill="#fff" stroke="#3c3cd2" stroke-width="2"/>
<path d="M210.3 703.8 L212.5 702.7 L212.5 709.2" stroke="#111" stroke-width="1.2" fill="none" stroke-linejoin="miter"/>
<path d="M212.8 712.2 L220.1 699.6" stroke="#111" stroke-width="1.1" fill="none"/>
<text transform="translate(221.6,712.1) scale(0.86,1)" font-size="10.8" fill="#111">6</text>
<text x="327.3" y="709.9" font-size="12" text-anchor="end" fill="#3c3cd2" textLength="39.6" lengthAdjust="spacingAndGlyphs">15,6 ms</text>
<rect x="365.6" y="698.6" width="12.8" height="12.8" rx="3" ry="3" fill="#fff" stroke="#0a78fa" stroke-width="1.2"/>
<path d="M368.3 705.6 L370.7 708.5 L375.6 701.4" fill="none" stroke="#0a78fa" stroke-width="1.9" stroke-linecap="round" stroke-linejoin="round"/>
<text x="384.9" y="709.9" font-size="12" fill="#e07000" textLength="60.7" lengthAdjust="spacingAndGlyphs">4: R août 11</text>
<rect x="549" y="705" width="51" height="2" fill="#e07000" shape-rendering="crispEdges"/>
<rect x="560" y="698" width="29" height="16" rx="3.5" ry="3.5" fill="#fff" stroke="#e07000" stroke-width="2"/>
<path d="M567.3 703.8 L569.5 702.7 L569.5 709.2" stroke="#111" stroke-width="1.2" fill="none" stroke-linejoin="miter"/>
<path d="M569.8 712.2 L577.1 699.6" stroke="#111" stroke-width="1.1" fill="none"/>
<text transform="translate(578.6,712.1) scale(0.86,1)" font-size="10.8" fill="#111">6</text>
<text x="684.3" y="709.9" font-size="12" text-anchor="end" fill="#e07000" textLength="39.6" lengthAdjust="spacingAndGlyphs">15,1 ms</text>
<rect x="722.6" y="698.6" width="12.8" height="12.8" rx="3" ry="3" fill="#fff" stroke="#0a78fa" stroke-width="1.2"/>
<path d="M725.3 705.6 L727.7 708.5 L732.6 701.4" fill="none" stroke="#0a78fa" stroke-width="1.9" stroke-linecap="round" stroke-linejoin="round"/>
<text x="741.9" y="709.9" font-size="12" fill="#009000" textLength="61.9" lengthAdjust="spacingAndGlyphs">5: C août 11</text>
<rect x="906" y="705" width="51" height="2" fill="#009000" shape-rendering="crispEdges"/>
<rect x="917" y="698" width="29" height="16" rx="3.5" ry="3.5" fill="#fff" stroke="#009000" stroke-width="2"/>
<path d="M924.3 703.8 L926.5 702.7 L926.5 709.2" stroke="#111" stroke-width="1.2" fill="none" stroke-linejoin="miter"/>
<path d="M926.8 712.2 L934.1 699.6" stroke="#111" stroke-width="1.1" fill="none"/>
<text transform="translate(935.6,712.1) scale(0.86,1)" font-size="10.8" fill="#111">6</text>
<text x="1041.3" y="709.9" font-size="12" text-anchor="end" fill="#009000" textLength="39.6" lengthAdjust="spacingAndGlyphs">16,1 ms</text>
<rect x="1079.6" y="698.6" width="12.8" height="12.8" rx="3" ry="3" fill="#fff" stroke="#0a78fa" stroke-width="1.2"/>
<path d="M1082.3 705.6 L1084.7 708.5 L1089.6 701.4" fill="none" stroke="#0a78fa" stroke-width="1.9" stroke-linecap="round" stroke-linejoin="round"/>
<text x="1098.9" y="709.9" font-size="12" fill="#0060d0" textLength="65.7" lengthAdjust="spacingAndGlyphs">6: SL août 11</text>
<rect x="1263" y="705" width="51" height="2" fill="#0060d0" shape-rendering="crispEdges"/>
<rect x="1274" y="698" width="29" height="16" rx="3.5" ry="3.5" fill="#fff" stroke="#0060d0" stroke-width="2"/>
<path d="M1281.3 703.8 L1283.5 702.7 L1283.5 709.2" stroke="#111" stroke-width="1.2" fill="none" stroke-linejoin="miter"/>
<path d="M1283.8 712.2 L1291.1 699.6" stroke="#111" stroke-width="1.1" fill="none"/>
<text transform="translate(1292.6,712.1) scale(0.86,1)" font-size="10.8" fill="#111">6</text>
<text x="1398.3" y="709.9" font-size="12" text-anchor="end" fill="#0060d0" textLength="39.6" lengthAdjust="spacingAndGlyphs">12,7 ms</text>
<rect x="8.6" y="719.6" width="12.8" height="12.8" rx="3" ry="3" fill="#fff" stroke="#0a78fa" stroke-width="1.2"/>
<path d="M11.3 726.6 L13.7 729.5 L18.6 722.4" fill="none" stroke="#0a78fa" stroke-width="1.9" stroke-linecap="round" stroke-linejoin="round"/>
<text x="27.9" y="730.9" font-size="12" fill="#904800" textLength="66.3" lengthAdjust="spacingAndGlyphs">7: SR août 11</text>
<rect x="192" y="726" width="51" height="2" fill="#904800" shape-rendering="crispEdges"/>
<rect x="203" y="719" width="29" height="16" rx="3.5" ry="3.5" fill="#fff" stroke="#904800" stroke-width="2"/>
<path d="M210.3 724.8 L212.5 723.7 L212.5 730.2" stroke="#111" stroke-width="1.2" fill="none" stroke-linejoin="miter"/>
<path d="M212.8 733.2 L220.1 720.6" stroke="#111" stroke-width="1.1" fill="none"/>
<text transform="translate(221.6,733.1) scale(0.86,1)" font-size="10.8" fill="#111">6</text>
<text x="327.3" y="730.9" font-size="12" text-anchor="end" fill="#904800" textLength="39.6" lengthAdjust="spacingAndGlyphs">13,4 ms</text>
<rect x="365.6" y="719.6" width="12.8" height="12.8" rx="3" ry="3" fill="#fff" stroke="#0a78fa" stroke-width="1.2"/>
<path d="M368.3 726.6 L370.7 729.5 L375.6 722.4" fill="none" stroke="#0a78fa" stroke-width="1.9" stroke-linecap="round" stroke-linejoin="round"/>
<text x="384.9" y="730.9" font-size="12" fill="#008080" textLength="73.3" lengthAdjust="spacingAndGlyphs">8: SBL août 11</text>
<rect x="549" y="726" width="51" height="2" fill="#008080" shape-rendering="crispEdges"/>
<rect x="560" y="719" width="29" height="16" rx="3.5" ry="3.5" fill="#fff" stroke="#008080" stroke-width="2"/>
<path d="M567.3 724.8 L569.5 723.7 L569.5 730.2" stroke="#111" stroke-width="1.2" fill="none" stroke-linejoin="miter"/>
<path d="M569.8 733.2 L577.1 720.6" stroke="#111" stroke-width="1.1" fill="none"/>
<text transform="translate(578.6,733.1) scale(0.86,1)" font-size="10.8" fill="#111">6</text>
<text x="684.3" y="730.9" font-size="12" text-anchor="end" fill="#008080" textLength="39.6" lengthAdjust="spacingAndGlyphs">14,8 ms</text>
<rect x="722.6" y="719.6" width="12.8" height="12.8" rx="3" ry="3" fill="#fff" stroke="#0a78fa" stroke-width="1.2"/>
<path d="M725.3 726.6 L727.7 729.5 L732.6 722.4" fill="none" stroke="#0a78fa" stroke-width="1.9" stroke-linecap="round" stroke-linejoin="round"/>
<text x="741.9" y="730.9" font-size="12" fill="#7000ff" textLength="73.7" lengthAdjust="spacingAndGlyphs">9: SBR août 11</text>
<rect x="906" y="726" width="51" height="2" fill="#7000ff" shape-rendering="crispEdges"/>
<rect x="917" y="719" width="29" height="16" rx="3.5" ry="3.5" fill="#fff" stroke="#7000ff" stroke-width="2"/>
<path d="M924.3 724.8 L926.5 723.7 L926.5 730.2" stroke="#111" stroke-width="1.2" fill="none" stroke-linejoin="miter"/>
<path d="M926.8 733.2 L934.1 720.6" stroke="#111" stroke-width="1.1" fill="none"/>
<text transform="translate(935.6,733.1) scale(0.86,1)" font-size="10.8" fill="#111">6</text>
<text x="1041.3" y="730.9" font-size="12" text-anchor="end" fill="#7000ff" textLength="39.6" lengthAdjust="spacingAndGlyphs">14,8 ms</text>
<rect x="1079.6" y="719.6" width="12.8" height="12.8" rx="3" ry="3" fill="#fff" stroke="#0a78fa" stroke-width="1.2"/>
<path d="M1082.3 726.6 L1084.7 729.5 L1089.6 722.4" fill="none" stroke="#0a78fa" stroke-width="1.9" stroke-linecap="round" stroke-linejoin="round"/>
<text x="1098.9" y="730.9" font-size="12" fill="#a000c0" textLength="105.8" lengthAdjust="spacingAndGlyphs">10: Atmos G août 11</text>
<rect x="1263" y="726" width="51" height="2" fill="#a000c0" shape-rendering="crispEdges"/>
<rect x="1274" y="719" width="29" height="16" rx="3.5" ry="3.5" fill="#fff" stroke="#a000c0" stroke-width="2"/>
<path d="M1281.3 724.8 L1283.5 723.7 L1283.5 730.2" stroke="#111" stroke-width="1.2" fill="none" stroke-linejoin="miter"/>
<path d="M1283.8 733.2 L1291.1 720.6" stroke="#111" stroke-width="1.1" fill="none"/>
<text transform="translate(1292.6,733.1) scale(0.86,1)" font-size="10.8" fill="#111">6</text>
<text x="1398.3" y="730.9" font-size="12" text-anchor="end" fill="#a000c0" textLength="39.6" lengthAdjust="spacingAndGlyphs">14,7 ms</text>
<rect x="8.6" y="740.6" width="12.8" height="12.8" rx="3" ry="3" fill="#fff" stroke="#0a78fa" stroke-width="1.2"/>
<path d="M11.3 747.6 L13.7 750.5 L18.6 743.4" fill="none" stroke="#0a78fa" stroke-width="1.9" stroke-linecap="round" stroke-linejoin="round"/>
<text x="27.9" y="751.9" font-size="12" fill="#ff0033" textLength="105.2" lengthAdjust="spacingAndGlyphs">11: Atmos D août 11</text>
<rect x="192" y="747" width="51" height="2" fill="#ff0033" shape-rendering="crispEdges"/>
<rect x="203" y="740" width="29" height="16" rx="3.5" ry="3.5" fill="#fff" stroke="#ff0033" stroke-width="2"/>
<path d="M210.3 745.8 L212.5 744.7 L212.5 751.2" stroke="#111" stroke-width="1.2" fill="none" stroke-linejoin="miter"/>
<path d="M212.8 754.2 L220.1 741.6" stroke="#111" stroke-width="1.1" fill="none"/>
<text transform="translate(221.6,754.1) scale(0.86,1)" font-size="10.8" fill="#111">6</text>
<text x="327.3" y="751.9" font-size="12" text-anchor="end" fill="#ff0033" textLength="39.6" lengthAdjust="spacingAndGlyphs">15,0 ms</text>
<rect x="365.6" y="740.6" width="12.8" height="12.8" rx="3" ry="3" fill="#fff" stroke="#0a78fa" stroke-width="1.2"/>
<path d="M368.3 747.6 L370.7 750.5 L375.6 743.4" fill="none" stroke="#0a78fa" stroke-width="1.9" stroke-linecap="round" stroke-linejoin="round"/>
<text x="384.9" y="751.9" font-size="12" fill="#ff0000" textLength="98.2" lengthAdjust="spacingAndGlyphs">12: LFE LFE août 11</text>
<rect x="549" y="747" width="51" height="2" fill="#ff0000" shape-rendering="crispEdges"/>
<rect x="560" y="740" width="29" height="16" rx="3.5" ry="3.5" fill="#fff" stroke="#ff0000" stroke-width="2"/>
<path d="M567.3 745.8 L569.5 744.7 L569.5 751.2" stroke="#111" stroke-width="1.2" fill="none" stroke-linejoin="miter"/>
<path d="M569.8 754.2 L577.1 741.6" stroke="#111" stroke-width="1.1" fill="none"/>
<text transform="translate(578.6,754.1) scale(0.86,1)" font-size="10.8" fill="#111">6</text>
<text x="684.3" y="751.9" font-size="12" text-anchor="end" fill="#ff0000" textLength="39.6" lengthAdjust="spacingAndGlyphs">8,75 ms</text>
</svg></body></html>
